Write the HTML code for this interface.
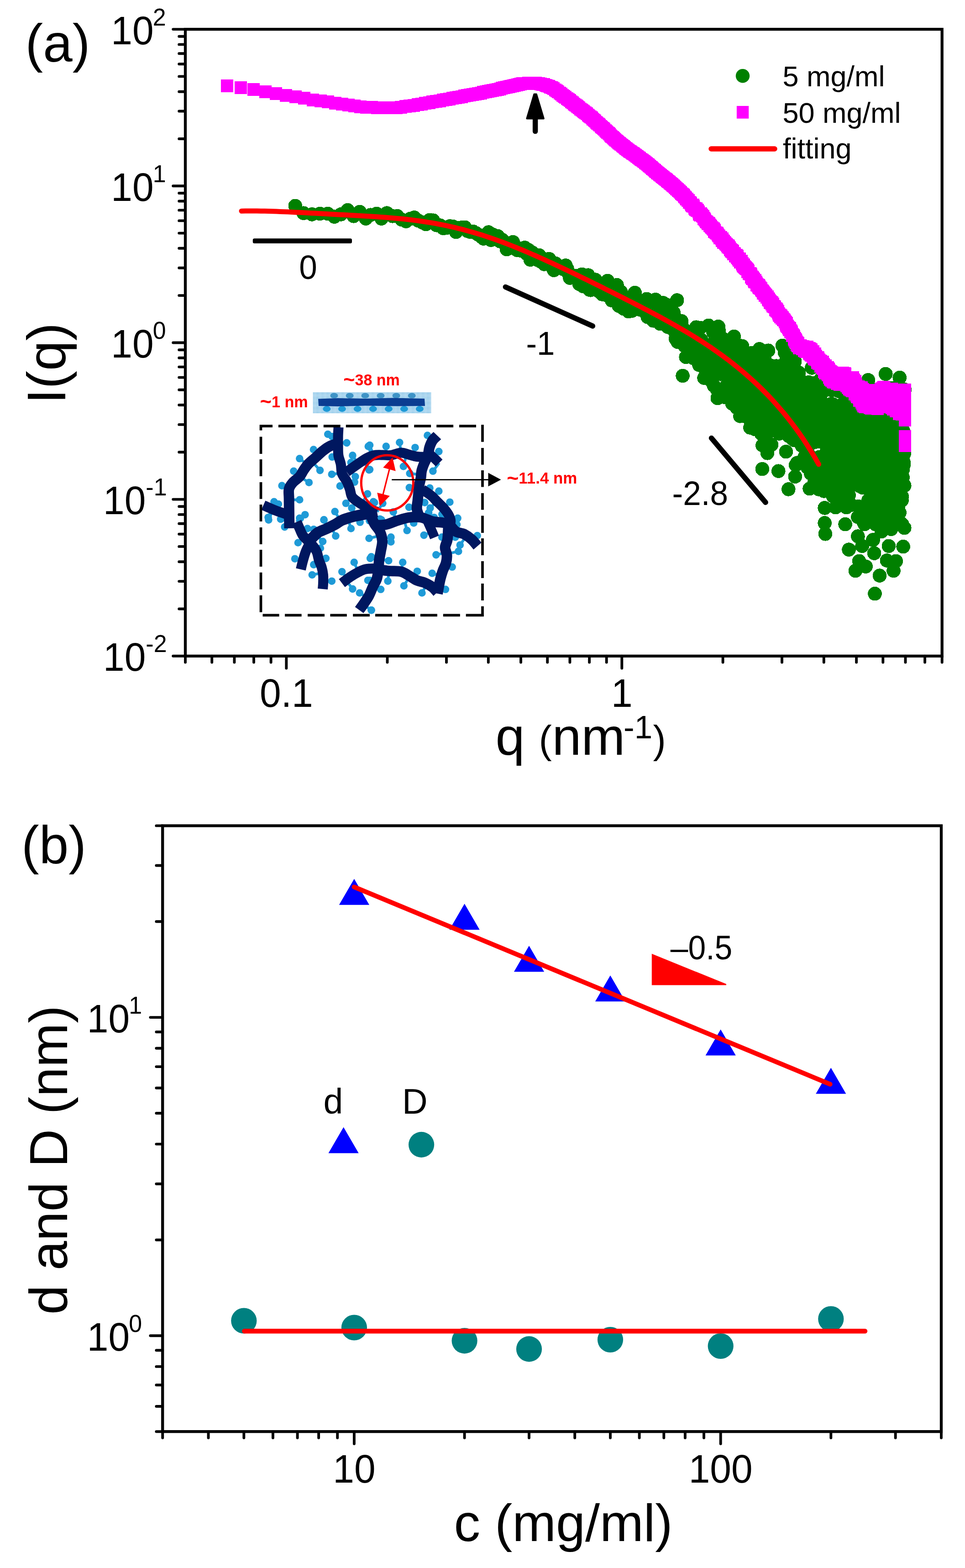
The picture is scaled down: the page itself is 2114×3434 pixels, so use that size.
<!DOCTYPE html>
<html lang="en"><head><meta charset="utf-8"><title>SAXS figure</title>
<style>html,body{margin:0;padding:0;background:#fff}svg{display:block}text{font-family:"Liberation Sans",sans-serif}.b{font-weight:bold}</style></head><body>
<svg width="2114" height="3434" viewBox="0 0 2114 3434">
<rect width="2114" height="3434" fill="#fff"/>
<g id="series-a" shape-rendering="crispEdges">
<g fill="#008000"><circle cx="646.8" cy="450.8" r="15.3"/><circle cx="665" cy="466.7" r="15.3"/><circle cx="683.5" cy="469.4" r="15.3"/><circle cx="700.7" cy="468" r="15.3"/><circle cx="717.9" cy="468" r="15.3"/><circle cx="732.5" cy="474.7" r="15.3"/><circle cx="747" cy="469.4" r="15.3"/><circle cx="761.6" cy="460.1" r="15.3"/><circle cx="774.8" cy="473.3" r="15.3"/><circle cx="788" cy="464" r="15.3"/><circle cx="801.3" cy="478.6" r="15.3"/><circle cx="811.9" cy="470.7" r="15.3"/><circle cx="825.1" cy="468" r="15.3"/><circle cx="835.7" cy="478.6" r="15.3"/><circle cx="847.6" cy="466.7" r="15.3"/><circle cx="860" cy="473.3" r="15.3"/><circle cx="870.1" cy="473.1" r="15.3"/><circle cx="879.9" cy="480.9" r="15.3"/><circle cx="889.4" cy="484.6" r="15.3"/><circle cx="898.6" cy="479.1" r="15.3"/><circle cx="907.6" cy="476.5" r="15.3"/><circle cx="916.3" cy="483.3" r="15.3"/><circle cx="924.8" cy="486.9" r="15.3"/><circle cx="933" cy="491" r="15.3"/><circle cx="941.1" cy="481.8" r="15.3"/><circle cx="948.9" cy="482.7" r="15.3"/><circle cx="956.6" cy="493.3" r="15.3"/><circle cx="964.1" cy="493.6" r="15.3"/><circle cx="971.4" cy="500" r="15.3"/><circle cx="978.6" cy="499" r="15.3"/><circle cx="985.6" cy="495.4" r="15.3"/><circle cx="992.4" cy="496.1" r="15.3"/><circle cx="999.1" cy="508.1" r="15.3"/><circle cx="1005.7" cy="499.1" r="15.3"/><circle cx="1012.1" cy="498.2" r="15.3"/><circle cx="1018.4" cy="497.9" r="15.3"/><circle cx="1024.6" cy="506.1" r="15.3"/><circle cx="1030.7" cy="508.1" r="15.3"/><circle cx="1036.6" cy="507.1" r="15.3"/><circle cx="1042.4" cy="510.4" r="15.3"/><circle cx="1048.2" cy="514" r="15.3"/><circle cx="1053.8" cy="518.2" r="15.3"/><circle cx="1059.4" cy="522.5" r="15.3"/><circle cx="1064.8" cy="519" r="15.3"/><circle cx="1070.2" cy="508.6" r="15.3"/><circle cx="1075.4" cy="525.6" r="15.3"/><circle cx="1080.6" cy="514.2" r="15.3"/><circle cx="1085.7" cy="523.8" r="15.3"/><circle cx="1090.7" cy="517.2" r="15.3"/><circle cx="1095.7" cy="528.5" r="15.3"/><circle cx="1100.5" cy="525.2" r="15.3"/><circle cx="1105.3" cy="533.5" r="15.3"/><circle cx="1110" cy="546.1" r="15.3"/><circle cx="1114.7" cy="535.3" r="15.3"/><circle cx="1119.3" cy="543.2" r="15.3"/><circle cx="1123.8" cy="530.1" r="15.3"/><circle cx="1128.3" cy="539" r="15.3"/><circle cx="1132.6" cy="547.5" r="15.3"/><circle cx="1137" cy="543.9" r="15.3"/><circle cx="1141.3" cy="549" r="15.3"/><circle cx="1145.5" cy="548.8" r="15.3"/><circle cx="1149.6" cy="542.5" r="15.3"/><circle cx="1153.8" cy="555.7" r="15.3"/><circle cx="1157.8" cy="547.3" r="15.3"/><circle cx="1161.8" cy="568.7" r="15.3"/><circle cx="1165.8" cy="553" r="15.3"/><circle cx="1169.7" cy="563.7" r="15.3"/><circle cx="1173.6" cy="560.2" r="15.3"/><circle cx="1177.4" cy="569.2" r="15.3"/><circle cx="1181.1" cy="558.9" r="15.3"/><circle cx="1184.9" cy="573" r="15.3"/><circle cx="1188.6" cy="565.9" r="15.3"/><circle cx="1192.2" cy="578.5" r="15.3"/><circle cx="1195.8" cy="575.1" r="15.3"/><circle cx="1199.4" cy="572.9" r="15.3"/><circle cx="1202.9" cy="567.1" r="15.3"/><circle cx="1206.4" cy="581.2" r="15.3"/><circle cx="1209.8" cy="580.4" r="15.3"/><circle cx="1213.2" cy="591.7" r="15.3"/><circle cx="1216.6" cy="576.7" r="15.3"/><circle cx="1219.9" cy="586" r="15.3"/><circle cx="1223.2" cy="587.2" r="15.3"/><circle cx="1226.5" cy="586.8" r="15.3"/><circle cx="1229.8" cy="587.8" r="15.3"/><circle cx="1233" cy="589.1" r="15.3"/><circle cx="1236.1" cy="583.7" r="15.3"/><circle cx="1239.3" cy="581.5" r="15.3"/><circle cx="1242.4" cy="588.4" r="15.3"/><circle cx="1245.5" cy="598.8" r="15.3"/><circle cx="1248.5" cy="608.7" r="15.3"/><circle cx="1251.5" cy="605.4" r="15.3"/><circle cx="1254.5" cy="607.6" r="15.3"/><circle cx="1257.5" cy="606.5" r="15.3"/><circle cx="1260.4" cy="607.3" r="15.3"/><circle cx="1263.3" cy="603.8" r="15.3"/><circle cx="1266.2" cy="610.9" r="15.3"/><circle cx="1269.1" cy="622" r="15.3"/><circle cx="1271.9" cy="603" r="15.3"/><circle cx="1274.7" cy="600.8" r="15.3"/><circle cx="1277.5" cy="627" r="15.3"/><circle cx="1280.3" cy="612.8" r="15.3"/><circle cx="1283" cy="621.4" r="15.3"/><circle cx="1285.7" cy="621.8" r="15.3"/><circle cx="1288.4" cy="602.7" r="15.3"/><circle cx="1291.1" cy="634.3" r="15.3"/><circle cx="1293.7" cy="635.3" r="15.3"/><circle cx="1296.4" cy="620" r="15.3"/><circle cx="1299" cy="627.4" r="15.3"/><circle cx="1301.5" cy="622.1" r="15.3"/><circle cx="1304.1" cy="612.6" r="15.3"/><circle cx="1306.6" cy="622.1" r="15.3"/><circle cx="1309.2" cy="628.5" r="15.3"/><circle cx="1311.7" cy="637.8" r="15.3"/><circle cx="1314.2" cy="634.7" r="15.3"/><circle cx="1316.6" cy="628.9" r="15.3"/><circle cx="1319.1" cy="644.4" r="15.3"/><circle cx="1321.5" cy="622.2" r="15.3"/><circle cx="1323.9" cy="640.7" r="15.3"/><circle cx="1326.3" cy="645.5" r="15.3"/><circle cx="1328.7" cy="630.9" r="15.3"/><circle cx="1331" cy="615" r="15.3"/><circle cx="1333.3" cy="626.2" r="15.3"/><circle cx="1335.7" cy="640.4" r="15.3"/><circle cx="1338" cy="644.9" r="15.3"/><circle cx="1340.2" cy="657.9" r="15.3"/><circle cx="1342.5" cy="629.5" r="15.3"/><circle cx="1344.8" cy="642.4" r="15.3"/><circle cx="1347" cy="651.2" r="15.3"/><circle cx="1349.2" cy="642.8" r="15.3"/><circle cx="1351.4" cy="624.2" r="15.3"/><circle cx="1353.6" cy="656.6" r="15.3"/><circle cx="1355.8" cy="670" r="15.3"/><circle cx="1358" cy="661.4" r="15.3"/><circle cx="1360.1" cy="639.3" r="15.3"/><circle cx="1362.3" cy="646.5" r="15.3"/><circle cx="1364.4" cy="655.4" r="15.3"/><circle cx="1366.5" cy="676.1" r="15.3"/><circle cx="1368.6" cy="662.5" r="15.3"/><circle cx="1370.6" cy="657.4" r="15.3"/><circle cx="1372.7" cy="676.5" r="15.3"/><circle cx="1374.8" cy="657.2" r="15.3"/><circle cx="1376.8" cy="682.1" r="15.3"/><circle cx="1378.8" cy="651.7" r="15.3"/><circle cx="1380.8" cy="655.2" r="15.3"/><circle cx="1382.8" cy="671" r="15.3"/><circle cx="1384.8" cy="680.6" r="15.3"/><circle cx="1386.8" cy="671.4" r="15.3"/><circle cx="1388.8" cy="667.5" r="15.3"/><circle cx="1390.7" cy="641.1" r="15.3"/><circle cx="1392.7" cy="655.8" r="15.3"/><circle cx="1394.6" cy="657.7" r="15.3"/><circle cx="1396.5" cy="659.3" r="15.3"/><circle cx="1398.4" cy="674.3" r="15.3"/><circle cx="1400.3" cy="663" r="15.3"/><circle cx="1402.2" cy="678.1" r="15.3"/><circle cx="1404" cy="669.6" r="15.3"/><circle cx="1405.9" cy="664.8" r="15.3"/><circle cx="1407.8" cy="671.2" r="15.3"/><circle cx="1409.6" cy="675.8" r="15.3"/><circle cx="1411.4" cy="682" r="15.3"/><circle cx="1413.2" cy="665.2" r="15.3"/><circle cx="1415" cy="669" r="15.3"/><circle cx="1416.8" cy="654.8" r="15.3"/><circle cx="1418.6" cy="694.1" r="15.3"/><circle cx="1420.4" cy="692.8" r="15.3"/><circle cx="1422.2" cy="672.2" r="15.3"/><circle cx="1423.9" cy="669" r="15.3"/><circle cx="1425.7" cy="659.8" r="15.3"/><circle cx="1427.4" cy="679" r="15.3"/><circle cx="1429.1" cy="680.2" r="15.3"/><circle cx="1430.9" cy="702.3" r="15.3"/><circle cx="1432.6" cy="682.2" r="15.3"/><circle cx="1434.3" cy="669.4" r="15.3"/><circle cx="1436" cy="656.3" r="15.3"/><circle cx="1437.7" cy="699.9" r="15.3"/><circle cx="1439.3" cy="684.4" r="15.3"/><circle cx="1441" cy="661.2" r="15.3"/><circle cx="1442.7" cy="685.8" r="15.3"/><circle cx="1444.3" cy="662.6" r="15.3"/><circle cx="1445.9" cy="709.1" r="15.3"/><circle cx="1447.6" cy="700.5" r="15.3"/><circle cx="1449.2" cy="693.9" r="15.3"/><circle cx="1450.8" cy="684.7" r="15.3"/><circle cx="1452.4" cy="663.4" r="15.3"/><circle cx="1454" cy="687.1" r="15.3"/><circle cx="1455.6" cy="668.7" r="15.3"/><circle cx="1457.2" cy="698.6" r="15.3"/><circle cx="1458.8" cy="666.8" r="15.3"/><circle cx="1460.3" cy="679.9" r="15.3"/><circle cx="1461.9" cy="709.7" r="15.3"/><circle cx="1463.4" cy="716.3" r="15.3"/><circle cx="1465" cy="678.8" r="15.3"/><circle cx="1466.5" cy="674.8" r="15.3"/><circle cx="1468.1" cy="708.5" r="15.3"/><circle cx="1469.6" cy="709" r="15.3"/><circle cx="1471.1" cy="684.7" r="15.3"/><circle cx="1472.6" cy="689.6" r="15.3"/><circle cx="1474.1" cy="690.4" r="15.3"/><circle cx="1475.6" cy="684.4" r="15.3"/><circle cx="1477.1" cy="692.3" r="15.3"/><circle cx="1478.6" cy="726.8" r="15.3"/><circle cx="1480" cy="741.5" r="15.3"/><circle cx="1481.5" cy="737.6" r="15.3"/><circle cx="1483" cy="701.7" r="15.3"/><circle cx="1484.4" cy="748.8" r="15.3"/><circle cx="1485.9" cy="744.5" r="15.3"/><circle cx="1487.3" cy="736" r="15.3"/><circle cx="1488.7" cy="712.1" r="15.3"/><circle cx="1490.2" cy="707.1" r="15.3"/><circle cx="1491.6" cy="735.3" r="15.3"/><circle cx="1493" cy="703.3" r="15.3"/><circle cx="1494.4" cy="750.9" r="15.3"/><circle cx="1495.8" cy="718.2" r="15.3"/><circle cx="1497.2" cy="732.1" r="15.3"/><circle cx="1498.6" cy="728" r="15.3"/><circle cx="1500" cy="757.6" r="15.3"/><circle cx="1501.4" cy="743.8" r="15.3"/><circle cx="1502.7" cy="781.9" r="15.3"/><circle cx="1504.1" cy="757.5" r="15.3"/><circle cx="1505.5" cy="727.8" r="15.3"/><circle cx="1506.8" cy="775.6" r="15.3"/><circle cx="1508.2" cy="732.9" r="15.3"/><circle cx="1509.5" cy="767.7" r="15.3"/><circle cx="1510.9" cy="749.7" r="15.3"/><circle cx="1512.2" cy="732.5" r="15.3"/><circle cx="1513.5" cy="763.1" r="15.3"/><circle cx="1514.8" cy="740" r="15.3"/><circle cx="1516.1" cy="749.1" r="15.3"/><circle cx="1517.5" cy="746.5" r="15.3"/><circle cx="1518.8" cy="784.3" r="15.3"/><circle cx="1520.1" cy="771.7" r="15.3"/><circle cx="1521.4" cy="757.7" r="15.3"/><circle cx="1522.6" cy="779.5" r="15.3"/><circle cx="1523.9" cy="725.7" r="15.3"/><circle cx="1525.2" cy="716.7" r="15.3"/><circle cx="1526.5" cy="759.4" r="15.3"/><circle cx="1527.8" cy="770.8" r="15.3"/><circle cx="1529" cy="772.1" r="15.3"/><circle cx="1530.3" cy="775" r="15.3"/><circle cx="1531.5" cy="799.2" r="15.3"/><circle cx="1532.8" cy="761.3" r="15.3"/><circle cx="1534" cy="718.1" r="15.3"/><circle cx="1535.3" cy="786.3" r="15.3"/><circle cx="1536.5" cy="744.4" r="15.3"/><circle cx="1537.7" cy="787.3" r="15.3"/><circle cx="1538.9" cy="780.2" r="15.3"/><circle cx="1540.2" cy="758.9" r="15.3"/><circle cx="1541.4" cy="800.9" r="15.3"/><circle cx="1542.6" cy="827.7" r="15.3"/><circle cx="1543.8" cy="807.3" r="15.3"/><circle cx="1545" cy="768.7" r="15.3"/><circle cx="1546.2" cy="798.8" r="15.3"/><circle cx="1547.4" cy="760.2" r="15.3"/><circle cx="1548.6" cy="797.6" r="15.3"/><circle cx="1549.8" cy="794.7" r="15.3"/><circle cx="1550.9" cy="803.9" r="15.3"/><circle cx="1552.1" cy="712.8" r="15.3"/><circle cx="1553.3" cy="776" r="15.3"/><circle cx="1554.5" cy="759.7" r="15.3"/><circle cx="1555.6" cy="821.5" r="15.3"/><circle cx="1556.8" cy="777.2" r="15.3"/><circle cx="1557.9" cy="833.4" r="15.3"/><circle cx="1559.1" cy="776.6" r="15.3"/><circle cx="1560.2" cy="791.6" r="15.3"/><circle cx="1561.4" cy="797.6" r="15.3"/><circle cx="1562.5" cy="727.6" r="15.3"/><circle cx="1563.6" cy="844.4" r="15.3"/><circle cx="1564.8" cy="767.4" r="15.3"/><circle cx="1565.9" cy="813.9" r="15.3"/><circle cx="1567" cy="744.3" r="15.3"/><circle cx="1568.1" cy="820.4" r="15.3"/><circle cx="1569.2" cy="759.6" r="15.3"/><circle cx="1570.4" cy="852.8" r="15.3"/><circle cx="1571.5" cy="755.7" r="15.3"/><circle cx="1572.6" cy="765.5" r="15.3"/><circle cx="1573.7" cy="715.2" r="15.3"/><circle cx="1574.8" cy="724.3" r="15.3"/><circle cx="1575.9" cy="786.1" r="15.3"/><circle cx="1576.9" cy="780.5" r="15.3"/><circle cx="1578" cy="819.3" r="15.3"/><circle cx="1579.1" cy="783.2" r="15.3"/><circle cx="1580.2" cy="749.6" r="15.3"/><circle cx="1581.2" cy="804.9" r="15.3"/><circle cx="1582.3" cy="815.4" r="15.3"/><circle cx="1583.4" cy="868.2" r="15.3"/><circle cx="1584.4" cy="787.3" r="15.3"/><circle cx="1585.5" cy="794.4" r="15.3"/><circle cx="1586.6" cy="743.2" r="15.3"/><circle cx="1587.6" cy="808.9" r="15.3"/><circle cx="1588.7" cy="870" r="15.3"/><circle cx="1589.7" cy="807.8" r="15.3"/><circle cx="1590.7" cy="801.1" r="15.3"/><circle cx="1591.8" cy="795.9" r="15.3"/><circle cx="1592.8" cy="842.5" r="15.3"/><circle cx="1593.8" cy="761.7" r="15.3"/><circle cx="1594.9" cy="781" r="15.3"/><circle cx="1595.9" cy="855.1" r="15.3"/><circle cx="1596.9" cy="763.5" r="15.3"/><circle cx="1597.9" cy="836.5" r="15.3"/><circle cx="1599" cy="788.2" r="15.3"/><circle cx="1600" cy="860.4" r="15.3"/><circle cx="1601" cy="844.7" r="15.3"/><circle cx="1602" cy="812.7" r="15.3"/><circle cx="1603" cy="766.9" r="15.3"/><circle cx="1604" cy="802.9" r="15.3"/><circle cx="1605" cy="800" r="15.3"/><circle cx="1606" cy="762.7" r="15.3"/><circle cx="1607" cy="833.5" r="15.3"/><circle cx="1607.9" cy="737" r="15.3"/><circle cx="1608.9" cy="800.4" r="15.3"/><circle cx="1609.9" cy="822.8" r="15.3"/><circle cx="1610.9" cy="882.3" r="15.3"/><circle cx="1611.9" cy="802.4" r="15.3"/><circle cx="1612.8" cy="849.6" r="15.3"/><circle cx="1613.8" cy="892.9" r="15.3"/><circle cx="1614.8" cy="838.3" r="15.3"/><circle cx="1615.7" cy="841.3" r="15.3"/><circle cx="1616.7" cy="758.2" r="15.3"/><circle cx="1617.6" cy="756" r="15.3"/><circle cx="1618.6" cy="806" r="15.3"/><circle cx="1619.5" cy="856.7" r="15.3"/><circle cx="1620.5" cy="777.4" r="15.3"/><circle cx="1621.4" cy="911.3" r="15.3"/><circle cx="1622.4" cy="826.9" r="15.3"/><circle cx="1623.3" cy="768.8" r="15.3"/><circle cx="1624.3" cy="857.7" r="15.3"/><circle cx="1625.2" cy="762.3" r="15.3"/><circle cx="1626.1" cy="758" r="15.3"/><circle cx="1627.1" cy="777.1" r="15.3"/><circle cx="1628" cy="783.4" r="15.3"/><circle cx="1628.9" cy="889.5" r="15.3"/><circle cx="1629.8" cy="831" r="15.3"/><circle cx="1630.7" cy="850.4" r="15.3"/><circle cx="1631.7" cy="847.6" r="15.3"/><circle cx="1632.6" cy="883.2" r="15.3"/><circle cx="1633.5" cy="835.9" r="15.3"/><circle cx="1634.4" cy="831.1" r="15.3"/><circle cx="1635.3" cy="912.8" r="15.3"/><circle cx="1636.2" cy="850.8" r="15.3"/><circle cx="1637.1" cy="838.6" r="15.3"/><circle cx="1638" cy="822.9" r="15.3"/><circle cx="1638.9" cy="850.8" r="15.3"/><circle cx="1639.8" cy="916.1" r="15.3"/><circle cx="1640.7" cy="868" r="15.3"/><circle cx="1641.6" cy="893.8" r="15.3"/><circle cx="1642.4" cy="870.3" r="15.3"/><circle cx="1643.3" cy="936.4" r="15.3"/><circle cx="1644.2" cy="804.7" r="15.3"/><circle cx="1645.1" cy="925.9" r="15.3"/><circle cx="1646" cy="870.9" r="15.3"/><circle cx="1646.8" cy="925" r="15.3"/><circle cx="1647.7" cy="772.9" r="15.3"/><circle cx="1648.6" cy="866.6" r="15.3"/><circle cx="1649.4" cy="897.3" r="15.3"/><circle cx="1650.3" cy="831.7" r="15.3"/><circle cx="1651.2" cy="774.4" r="15.3"/><circle cx="1652" cy="884.8" r="15.3"/><circle cx="1652.9" cy="781" r="15.3"/><circle cx="1653.7" cy="940" r="15.3"/><circle cx="1654.6" cy="825.8" r="15.3"/><circle cx="1655.4" cy="922.7" r="15.3"/><circle cx="1656.3" cy="844.2" r="15.3"/><circle cx="1657.1" cy="817.7" r="15.3"/><circle cx="1658" cy="806.8" r="15.3"/><circle cx="1658.8" cy="931.5" r="15.3"/><circle cx="1659.7" cy="875.8" r="15.3"/><circle cx="1660.5" cy="849.2" r="15.3"/><circle cx="1661.3" cy="812.8" r="15.3"/><circle cx="1662.2" cy="795.8" r="15.3"/><circle cx="1663" cy="942" r="15.3"/><circle cx="1663.8" cy="764.4" r="15.3"/><circle cx="1664.6" cy="863.7" r="15.3"/><circle cx="1665.5" cy="812.8" r="15.3"/><circle cx="1666.3" cy="888.9" r="15.3"/><circle cx="1667.1" cy="803" r="15.3"/><circle cx="1667.9" cy="950.2" r="15.3"/><circle cx="1668.7" cy="866.8" r="15.3"/><circle cx="1669.6" cy="871.4" r="15.3"/><circle cx="1670.4" cy="975.3" r="15.3"/><circle cx="1671.2" cy="877.7" r="15.3"/><circle cx="1672" cy="916.1" r="15.3"/><circle cx="1672.8" cy="833.8" r="15.3"/><circle cx="1673.6" cy="835.8" r="15.3"/><circle cx="1674.4" cy="858.7" r="15.3"/><circle cx="1675.2" cy="784.1" r="15.3"/><circle cx="1676" cy="789.5" r="15.3"/><circle cx="1676.8" cy="922" r="15.3"/><circle cx="1677.6" cy="948.9" r="15.3"/><circle cx="1678.4" cy="979.6" r="15.3"/><circle cx="1679.1" cy="922.3" r="15.3"/><circle cx="1679.9" cy="951.5" r="15.3"/><circle cx="1680.7" cy="871.8" r="15.3"/><circle cx="1681.5" cy="878.7" r="15.3"/><circle cx="1682.3" cy="938.2" r="15.3"/><circle cx="1683.1" cy="767.7" r="15.3"/><circle cx="1683.8" cy="904.9" r="15.3"/><circle cx="1684.6" cy="930.7" r="15.3"/><circle cx="1685.4" cy="821.6" r="15.3"/><circle cx="1686.2" cy="883.1" r="15.3"/><circle cx="1686.9" cy="867.3" r="15.3"/><circle cx="1687.7" cy="925.8" r="15.3"/><circle cx="1688.5" cy="833.4" r="15.3"/><circle cx="1689.2" cy="800.9" r="15.3"/><circle cx="1690" cy="973.9" r="15.3"/><circle cx="1690.8" cy="922.7" r="15.3"/><circle cx="1691.5" cy="881.5" r="15.3"/><circle cx="1692.3" cy="905.2" r="15.3"/><circle cx="1693" cy="845.6" r="15.3"/><circle cx="1693.8" cy="915.9" r="15.3"/><circle cx="1694.5" cy="846.1" r="15.3"/><circle cx="1695.3" cy="822.7" r="15.3"/><circle cx="1696" cy="832.8" r="15.3"/><circle cx="1696.8" cy="816.7" r="15.3"/><circle cx="1697.5" cy="892.5" r="15.3"/><circle cx="1698.3" cy="837.6" r="15.3"/><circle cx="1699" cy="906.5" r="15.3"/><circle cx="1699.7" cy="891" r="15.3"/><circle cx="1700.5" cy="801.7" r="15.3"/><circle cx="1701.2" cy="873" r="15.3"/><circle cx="1702" cy="848.6" r="15.3"/><circle cx="1702.7" cy="826.5" r="15.3"/><circle cx="1703.4" cy="933.5" r="15.3"/><circle cx="1704.1" cy="846.4" r="15.3"/><circle cx="1704.9" cy="808.5" r="15.3"/><circle cx="1705.6" cy="818.8" r="15.3"/><circle cx="1706.3" cy="870.5" r="15.3"/><circle cx="1707" cy="949.5" r="15.3"/><circle cx="1707.8" cy="918.1" r="15.3"/><circle cx="1708.5" cy="820.2" r="15.3"/><circle cx="1709.2" cy="897.3" r="15.3"/><circle cx="1709.9" cy="939.6" r="15.3"/><circle cx="1710.6" cy="804" r="15.3"/><circle cx="1711.4" cy="859.8" r="15.3"/><circle cx="1712.1" cy="801.1" r="15.3"/><circle cx="1712.8" cy="802.8" r="15.3"/><circle cx="1713.5" cy="947.5" r="15.3"/><circle cx="1714.2" cy="828.7" r="15.3"/><circle cx="1714.9" cy="898.2" r="15.3"/><circle cx="1715.6" cy="848.3" r="15.3"/><circle cx="1716.3" cy="874.3" r="15.3"/><circle cx="1717" cy="860.3" r="15.3"/><circle cx="1717.7" cy="846.5" r="15.3"/><circle cx="1718.4" cy="808.5" r="15.3"/><circle cx="1719.1" cy="772.5" r="15.3"/><circle cx="1719.8" cy="836.5" r="15.3"/><circle cx="1720.5" cy="793.8" r="15.3"/><circle cx="1721.2" cy="852.7" r="15.3"/><circle cx="1721.9" cy="989.2" r="15.3"/><circle cx="1722.5" cy="934.5" r="15.3"/><circle cx="1723.2" cy="863.1" r="15.3"/><circle cx="1723.9" cy="863.6" r="15.3"/><circle cx="1724.6" cy="869.3" r="15.3"/><circle cx="1725.3" cy="909.1" r="15.3"/><circle cx="1726" cy="783" r="15.3"/><circle cx="1726.6" cy="866.1" r="15.3"/><circle cx="1727.3" cy="954.5" r="15.3"/><circle cx="1728" cy="893.5" r="15.3"/><circle cx="1728.7" cy="906.5" r="15.3"/><circle cx="1729.4" cy="909.6" r="15.3"/><circle cx="1730" cy="831.8" r="15.3"/><circle cx="1730.7" cy="908.1" r="15.3"/><circle cx="1731.4" cy="806.4" r="15.3"/><circle cx="1732" cy="801.7" r="15.3"/><circle cx="1732.7" cy="919.4" r="15.3"/><circle cx="1733.4" cy="883.1" r="15.3"/><circle cx="1734" cy="955.6" r="15.3"/><circle cx="1734.7" cy="900.5" r="15.3"/><circle cx="1735.4" cy="943.5" r="15.3"/><circle cx="1736" cy="961" r="15.3"/><circle cx="1736.7" cy="862.8" r="15.3"/><circle cx="1737.3" cy="866.5" r="15.3"/><circle cx="1738" cy="951.9" r="15.3"/><circle cx="1738.6" cy="836.9" r="15.3"/><circle cx="1739.3" cy="802.8" r="15.3"/><circle cx="1739.9" cy="964" r="15.3"/><circle cx="1740.6" cy="942.8" r="15.3"/><circle cx="1741.2" cy="791.4" r="15.3"/><circle cx="1741.9" cy="854.4" r="15.3"/><circle cx="1742.5" cy="844.4" r="15.3"/><circle cx="1743.2" cy="845.9" r="15.3"/><circle cx="1743.8" cy="959.5" r="15.3"/><circle cx="1744.5" cy="934.9" r="15.3"/><circle cx="1745.1" cy="827.4" r="15.3"/><circle cx="1745.8" cy="887.2" r="15.3"/><circle cx="1746.4" cy="1013.7" r="15.3"/><circle cx="1747" cy="860.8" r="15.3"/><circle cx="1747.7" cy="939.8" r="15.3"/><circle cx="1748.3" cy="915.5" r="15.3"/><circle cx="1748.9" cy="925.6" r="15.3"/><circle cx="1749.6" cy="926.8" r="15.3"/><circle cx="1750.2" cy="816" r="15.3"/><circle cx="1750.8" cy="841.5" r="15.3"/><circle cx="1751.5" cy="957.8" r="15.3"/><circle cx="1752.1" cy="914.2" r="15.3"/><circle cx="1752.7" cy="831.9" r="15.3"/><circle cx="1753.3" cy="947.9" r="15.3"/><circle cx="1754" cy="919.8" r="15.3"/><circle cx="1754.6" cy="860.5" r="15.3"/><circle cx="1755.2" cy="915.5" r="15.3"/><circle cx="1755.8" cy="866.3" r="15.3"/><circle cx="1756.4" cy="976" r="15.3"/><circle cx="1757.1" cy="845.2" r="15.3"/><circle cx="1757.7" cy="1014.5" r="15.3"/><circle cx="1758.3" cy="852.9" r="15.3"/><circle cx="1758.9" cy="858.5" r="15.3"/><circle cx="1759.5" cy="962.2" r="15.3"/><circle cx="1760.1" cy="912.3" r="15.3"/><circle cx="1760.7" cy="882" r="15.3"/><circle cx="1761.4" cy="921.5" r="15.3"/><circle cx="1762" cy="883.6" r="15.3"/><circle cx="1762.6" cy="871.3" r="15.3"/><circle cx="1763.2" cy="999.6" r="15.3"/><circle cx="1763.8" cy="945.6" r="15.3"/><circle cx="1764.4" cy="891.1" r="15.3"/><circle cx="1765" cy="922.3" r="15.3"/><circle cx="1765.6" cy="978" r="15.3"/><circle cx="1766.2" cy="990.3" r="15.3"/><circle cx="1766.8" cy="926.7" r="15.3"/><circle cx="1767.4" cy="966.4" r="15.3"/><circle cx="1768" cy="911.2" r="15.3"/><circle cx="1768.6" cy="1023.3" r="15.3"/><circle cx="1769.2" cy="892.9" r="15.3"/><circle cx="1769.8" cy="879.8" r="15.3"/><circle cx="1770.4" cy="1015.4" r="15.3"/><circle cx="1771" cy="994.5" r="15.3"/><circle cx="1771.5" cy="928.1" r="15.3"/><circle cx="1772.1" cy="837.3" r="15.3"/><circle cx="1772.7" cy="1024.7" r="15.3"/><circle cx="1773.3" cy="874.1" r="15.3"/><circle cx="1773.9" cy="873.2" r="15.3"/><circle cx="1774.5" cy="970.4" r="15.3"/><circle cx="1775.1" cy="964.1" r="15.3"/><circle cx="1775.7" cy="895.1" r="15.3"/><circle cx="1776.2" cy="1031.1" r="15.3"/><circle cx="1776.8" cy="915" r="15.3"/><circle cx="1777.4" cy="970.9" r="15.3"/><circle cx="1778" cy="936.6" r="15.3"/><circle cx="1778.5" cy="805.4" r="15.3"/><circle cx="1779.1" cy="913.7" r="15.3"/><circle cx="1779.7" cy="946.2" r="15.3"/><circle cx="1780.3" cy="893.1" r="15.3"/><circle cx="1780.8" cy="874.9" r="15.3"/><circle cx="1781.4" cy="897.6" r="15.3"/><circle cx="1782" cy="1009.4" r="15.3"/><circle cx="1782.6" cy="852.3" r="15.3"/><circle cx="1783.1" cy="849.9" r="15.3"/><circle cx="1783.7" cy="1058.3" r="15.3"/><circle cx="1784.3" cy="865.5" r="15.3"/><circle cx="1784.8" cy="839.2" r="15.3"/><circle cx="1785.4" cy="968" r="15.3"/><circle cx="1786" cy="1031.3" r="15.3"/><circle cx="1786.5" cy="902.7" r="15.3"/><circle cx="1787.1" cy="902.9" r="15.3"/><circle cx="1787.7" cy="844.4" r="15.3"/><circle cx="1788.2" cy="904.7" r="15.3"/><circle cx="1788.8" cy="1028.4" r="15.3"/><circle cx="1789.3" cy="930.4" r="15.3"/><circle cx="1789.9" cy="912.4" r="15.3"/><circle cx="1790.4" cy="956" r="15.3"/><circle cx="1791" cy="907.4" r="15.3"/><circle cx="1791.6" cy="904.9" r="15.3"/><circle cx="1792.1" cy="871.2" r="15.3"/><circle cx="1792.7" cy="953.1" r="15.3"/><circle cx="1793.2" cy="837" r="15.3"/><circle cx="1793.8" cy="889.3" r="15.3"/><circle cx="1794.3" cy="966.8" r="15.3"/><circle cx="1794.9" cy="901.1" r="15.3"/><circle cx="1795.4" cy="1000.8" r="15.3"/><circle cx="1796" cy="901.9" r="15.3"/><circle cx="1796.5" cy="906.8" r="15.3"/><circle cx="1797" cy="873.7" r="15.3"/><circle cx="1797.6" cy="845.3" r="15.3"/><circle cx="1798.1" cy="914.2" r="15.3"/><circle cx="1798.7" cy="829.4" r="15.3"/><circle cx="1799.2" cy="922.6" r="15.3"/><circle cx="1799.8" cy="1041.4" r="15.3"/><circle cx="1800.3" cy="942.5" r="15.3"/><circle cx="1800.8" cy="952.8" r="15.3"/><circle cx="1801.4" cy="960.6" r="15.3"/><circle cx="1801.9" cy="1039.8" r="15.3"/><circle cx="1802.4" cy="926.4" r="15.3"/><circle cx="1803" cy="1051.8" r="15.3"/><circle cx="1803.5" cy="1035.3" r="15.3"/><circle cx="1804.1" cy="951.6" r="15.3"/><circle cx="1804.6" cy="924" r="15.3"/><circle cx="1805.1" cy="1075.4" r="15.3"/><circle cx="1805.6" cy="910.6" r="15.3"/><circle cx="1806.2" cy="918" r="15.3"/><circle cx="1806.7" cy="1036.9" r="15.3"/><circle cx="1807.2" cy="957.4" r="15.3"/><circle cx="1807.8" cy="972.8" r="15.3"/><circle cx="1808.3" cy="823.8" r="15.3"/><circle cx="1808.8" cy="1061.5" r="15.3"/><circle cx="1809.3" cy="1018.6" r="15.3"/><circle cx="1809.9" cy="905.7" r="15.3"/><circle cx="1810.4" cy="1035.6" r="15.3"/><circle cx="1810.9" cy="965" r="15.3"/><circle cx="1811.4" cy="987.3" r="15.3"/><circle cx="1811.9" cy="853.4" r="15.3"/><circle cx="1812.5" cy="960.7" r="15.3"/><circle cx="1813" cy="948.6" r="15.3"/><circle cx="1813.5" cy="961.2" r="15.3"/><circle cx="1814" cy="980.2" r="15.3"/><circle cx="1814.5" cy="988" r="15.3"/><circle cx="1815" cy="1061.3" r="15.3"/><circle cx="1815.6" cy="950.4" r="15.3"/><circle cx="1816.1" cy="923.7" r="15.3"/><circle cx="1816.6" cy="903.6" r="15.3"/><circle cx="1817.1" cy="839.7" r="15.3"/><circle cx="1817.6" cy="1073" r="15.3"/><circle cx="1818.1" cy="990.9" r="15.3"/><circle cx="1818.6" cy="964.9" r="15.3"/><circle cx="1819.1" cy="892.7" r="15.3"/><circle cx="1819.6" cy="955.3" r="15.3"/><circle cx="1820.2" cy="1052.7" r="15.3"/><circle cx="1820.7" cy="835.6" r="15.3"/><circle cx="1821.2" cy="1041" r="15.3"/><circle cx="1821.7" cy="884.4" r="15.3"/><circle cx="1822.2" cy="919.5" r="15.3"/><circle cx="1822.7" cy="854.6" r="15.3"/><circle cx="1823.2" cy="952.3" r="15.3"/><circle cx="1823.7" cy="836.5" r="15.3"/><circle cx="1824.2" cy="1040.5" r="15.3"/><circle cx="1824.7" cy="885.4" r="15.3"/><circle cx="1825.2" cy="926.2" r="15.3"/><circle cx="1825.7" cy="841.7" r="15.3"/><circle cx="1826.2" cy="1055.5" r="15.3"/><circle cx="1826.7" cy="932.7" r="15.3"/><circle cx="1827.2" cy="1034.2" r="15.3"/><circle cx="1827.7" cy="1019.4" r="15.3"/><circle cx="1828.2" cy="981.9" r="15.3"/><circle cx="1828.7" cy="937.6" r="15.3"/><circle cx="1829.1" cy="966.2" r="15.3"/><circle cx="1829.6" cy="1009.6" r="15.3"/><circle cx="1830.1" cy="911.1" r="15.3"/><circle cx="1830.6" cy="1061" r="15.3"/><circle cx="1831.1" cy="957.8" r="15.3"/><circle cx="1831.6" cy="920.2" r="15.3"/><circle cx="1832.1" cy="975.2" r="15.3"/><circle cx="1832.6" cy="963.5" r="15.3"/><circle cx="1833.1" cy="958.2" r="15.3"/><circle cx="1833.5" cy="1038.6" r="15.3"/><circle cx="1834" cy="905.2" r="15.3"/><circle cx="1834.5" cy="948" r="15.3"/><circle cx="1835" cy="1005.4" r="15.3"/><circle cx="1835.5" cy="952.7" r="15.3"/><circle cx="1836" cy="1060.6" r="15.3"/><circle cx="1836.4" cy="1088.9" r="15.3"/><circle cx="1836.9" cy="995.8" r="15.3"/><circle cx="1837.4" cy="1061.8" r="15.3"/><circle cx="1837.9" cy="856.8" r="15.3"/><circle cx="1838.4" cy="902.2" r="15.3"/><circle cx="1838.8" cy="1103.9" r="15.3"/><circle cx="1839.3" cy="1035.3" r="15.3"/><circle cx="1839.8" cy="1045.4" r="15.3"/><circle cx="1840.3" cy="850.5" r="15.3"/><circle cx="1840.8" cy="911.5" r="15.3"/><circle cx="1841.2" cy="978.1" r="15.3"/><circle cx="1841.7" cy="1007.2" r="15.3"/><circle cx="1842.2" cy="1006.6" r="15.3"/><circle cx="1842.6" cy="1007.1" r="15.3"/><circle cx="1843.1" cy="920.2" r="15.3"/><circle cx="1843.6" cy="1078.5" r="15.3"/><circle cx="1844.1" cy="936.7" r="15.3"/><circle cx="1844.5" cy="1002.4" r="15.3"/><circle cx="1845" cy="1094.6" r="15.3"/><circle cx="1845.5" cy="973" r="15.3"/><circle cx="1845.9" cy="843.6" r="15.3"/><circle cx="1846.4" cy="954" r="15.3"/><circle cx="1846.9" cy="1020" r="15.3"/><circle cx="1847.3" cy="908.6" r="15.3"/><circle cx="1847.8" cy="968.2" r="15.3"/><circle cx="1848.3" cy="882.4" r="15.3"/><circle cx="1848.7" cy="1026" r="15.3"/><circle cx="1849.2" cy="1046.6" r="15.3"/><circle cx="1849.7" cy="984.7" r="15.3"/><circle cx="1850.1" cy="1083.8" r="15.3"/><circle cx="1850.6" cy="881.7" r="15.3"/><circle cx="1851" cy="926.2" r="15.3"/><circle cx="1851.5" cy="914.2" r="15.3"/><circle cx="1852" cy="882.6" r="15.3"/><circle cx="1852.4" cy="960.1" r="15.3"/><circle cx="1852.9" cy="833.8" r="15.3"/><circle cx="1853.3" cy="1045.5" r="15.3"/><circle cx="1853.8" cy="999.3" r="15.3"/><circle cx="1854.2" cy="954" r="15.3"/><circle cx="1854.7" cy="947.2" r="15.3"/><circle cx="1855.1" cy="984.4" r="15.3"/><circle cx="1855.6" cy="895" r="15.3"/><circle cx="1856.1" cy="919" r="15.3"/><circle cx="1856.5" cy="844.7" r="15.3"/><circle cx="1857" cy="950.5" r="15.3"/><circle cx="1857.4" cy="878.1" r="15.3"/><circle cx="1857.9" cy="877" r="15.3"/><circle cx="1858.3" cy="971.3" r="15.3"/><circle cx="1858.8" cy="956.7" r="15.3"/><circle cx="1859.2" cy="1054.6" r="15.3"/><circle cx="1859.7" cy="1084.6" r="15.3"/><circle cx="1860.1" cy="847.1" r="15.3"/><circle cx="1860.5" cy="876.6" r="15.3"/><circle cx="1861" cy="848.2" r="15.3"/><circle cx="1861.4" cy="1007.3" r="15.3"/><circle cx="1861.9" cy="909.7" r="15.3"/><circle cx="1862.3" cy="939.3" r="15.3"/><circle cx="1862.8" cy="1063" r="15.3"/><circle cx="1863.2" cy="907.5" r="15.3"/><circle cx="1863.7" cy="1027.8" r="15.3"/><circle cx="1864.1" cy="981.6" r="15.3"/><circle cx="1864.5" cy="938.4" r="15.3"/><circle cx="1865" cy="1105.9" r="15.3"/><circle cx="1865.4" cy="973.4" r="15.3"/><circle cx="1865.9" cy="950.8" r="15.3"/><circle cx="1866.3" cy="1027.5" r="15.3"/><circle cx="1866.7" cy="1042.1" r="15.3"/><circle cx="1867.2" cy="905.6" r="15.3"/><circle cx="1867.6" cy="1024.8" r="15.3"/><circle cx="1868" cy="957.1" r="15.3"/><circle cx="1868.5" cy="849.2" r="15.3"/><circle cx="1868.9" cy="1036.7" r="15.3"/><circle cx="1869.4" cy="973.5" r="15.3"/><circle cx="1869.8" cy="993.6" r="15.3"/><circle cx="1870.2" cy="968.8" r="15.3"/><circle cx="1870.7" cy="925.7" r="15.3"/><circle cx="1871.1" cy="934.7" r="15.3"/><circle cx="1871.5" cy="963.9" r="15.3"/><circle cx="1871.9" cy="1022.3" r="15.3"/><circle cx="1872.4" cy="937.2" r="15.3"/><circle cx="1872.8" cy="967.4" r="15.3"/><circle cx="1873.2" cy="849.2" r="15.3"/><circle cx="1873.7" cy="951.8" r="15.3"/><circle cx="1874.1" cy="897.2" r="15.3"/><circle cx="1874.5" cy="1060.9" r="15.3"/><circle cx="1874.9" cy="939.9" r="15.3"/><circle cx="1875.4" cy="996.7" r="15.3"/><circle cx="1875.8" cy="900.2" r="15.3"/><circle cx="1876.2" cy="974.4" r="15.3"/><circle cx="1876.7" cy="968.9" r="15.3"/><circle cx="1877.1" cy="919.1" r="15.3"/><circle cx="1877.5" cy="951.4" r="15.3"/><circle cx="1877.9" cy="1038.2" r="15.3"/><circle cx="1878.3" cy="921.5" r="15.3"/><circle cx="1878.8" cy="895.8" r="15.3"/><circle cx="1879.2" cy="955.3" r="15.3"/><circle cx="1879.6" cy="849" r="15.3"/><circle cx="1880" cy="977.5" r="15.3"/><circle cx="1880.4" cy="1109.1" r="15.3"/><circle cx="1880.9" cy="1061.3" r="15.3"/><circle cx="1881.3" cy="1058.3" r="15.3"/><circle cx="1881.7" cy="1053.6" r="15.3"/><circle cx="1882.1" cy="869.7" r="15.3"/><circle cx="1882.5" cy="996.2" r="15.3"/><circle cx="1883" cy="1064.3" r="15.3"/><circle cx="1883.4" cy="862.3" r="15.3"/><circle cx="1883.8" cy="914.4" r="15.3"/><circle cx="1884.2" cy="889.9" r="15.3"/><circle cx="1884.6" cy="1053.8" r="15.3"/><circle cx="1885" cy="1001.7" r="15.3"/><circle cx="1885.4" cy="1048" r="15.3"/><circle cx="1885.9" cy="1053.7" r="15.3"/><circle cx="1886.3" cy="1003.2" r="15.3"/><circle cx="1886.7" cy="906.5" r="15.3"/><circle cx="1887.1" cy="1051" r="15.3"/><circle cx="1887.5" cy="958.6" r="15.3"/><circle cx="1887.9" cy="1000.7" r="15.3"/><circle cx="1888.3" cy="910.6" r="15.3"/><circle cx="1888.7" cy="856.4" r="15.3"/><circle cx="1889.1" cy="1055.1" r="15.3"/><circle cx="1889.5" cy="1067.8" r="15.3"/><circle cx="1890" cy="1041.1" r="15.3"/><circle cx="1890.4" cy="850" r="15.3"/><circle cx="1890.8" cy="1046.9" r="15.3"/><circle cx="1891.2" cy="1142.4" r="15.3"/><circle cx="1891.6" cy="1031.2" r="15.3"/><circle cx="1892" cy="972.8" r="15.3"/><circle cx="1892.4" cy="867.6" r="15.3"/><circle cx="1892.8" cy="944.6" r="15.3"/><circle cx="1893.2" cy="930.8" r="15.3"/><circle cx="1893.6" cy="966.2" r="15.3"/><circle cx="1894" cy="898.5" r="15.3"/><circle cx="1894.4" cy="951.1" r="15.3"/><circle cx="1894.8" cy="877.5" r="15.3"/><circle cx="1895.2" cy="972.7" r="15.3"/><circle cx="1895.6" cy="1019.2" r="15.3"/><circle cx="1896" cy="880.9" r="15.3"/><circle cx="1896.4" cy="964.2" r="15.3"/><circle cx="1896.8" cy="869.2" r="15.3"/><circle cx="1897.2" cy="866.8" r="15.3"/><circle cx="1897.6" cy="1021.3" r="15.3"/><circle cx="1898" cy="945.7" r="15.3"/><circle cx="1898.4" cy="858" r="15.3"/><circle cx="1898.8" cy="1111.1" r="15.3"/><circle cx="1899.2" cy="957" r="15.3"/><circle cx="1899.6" cy="1046.4" r="15.3"/><circle cx="1900" cy="988.5" r="15.3"/><circle cx="1900.4" cy="1069.6" r="15.3"/><circle cx="1900.8" cy="976.8" r="15.3"/><circle cx="1901.2" cy="1013" r="15.3"/><circle cx="1901.5" cy="888" r="15.3"/><circle cx="1901.9" cy="973.7" r="15.3"/><circle cx="1902.3" cy="1095.6" r="15.3"/><circle cx="1902.7" cy="870.4" r="15.3"/><circle cx="1903.1" cy="891.8" r="15.3"/><circle cx="1903.5" cy="942.8" r="15.3"/><circle cx="1903.9" cy="1140.2" r="15.3"/><circle cx="1904.3" cy="908.8" r="15.3"/><circle cx="1904.7" cy="1053.1" r="15.3"/><circle cx="1905.1" cy="852.3" r="15.3"/><circle cx="1905.4" cy="968.7" r="15.3"/><circle cx="1905.8" cy="998.3" r="15.3"/><circle cx="1906.2" cy="1119" r="15.3"/><circle cx="1906.6" cy="1037.3" r="15.3"/><circle cx="1907" cy="1103.6" r="15.3"/><circle cx="1907.4" cy="954.9" r="15.3"/><circle cx="1907.8" cy="851.8" r="15.3"/><circle cx="1908.2" cy="1065.1" r="15.3"/><circle cx="1908.5" cy="920.3" r="15.3"/><circle cx="1908.9" cy="851.7" r="15.3"/><circle cx="1909.3" cy="1037.3" r="15.3"/><circle cx="1909.7" cy="1020.2" r="15.3"/><circle cx="1910.1" cy="937.1" r="15.3"/><circle cx="1910.4" cy="943.2" r="15.3"/><circle cx="1910.8" cy="948.9" r="15.3"/><circle cx="1911.2" cy="1005.6" r="15.3"/><circle cx="1911.6" cy="870.5" r="15.3"/><circle cx="1912" cy="882.2" r="15.3"/><circle cx="1912.4" cy="989" r="15.3"/><circle cx="1912.7" cy="987.2" r="15.3"/><circle cx="1913.1" cy="953.8" r="15.3"/><circle cx="1913.5" cy="1007.8" r="15.3"/><circle cx="1913.9" cy="1060.9" r="15.3"/><circle cx="1914.2" cy="1091.6" r="15.3"/><circle cx="1914.6" cy="1067.4" r="15.3"/><circle cx="1915" cy="1067.5" r="15.3"/><circle cx="1915.4" cy="952.1" r="15.3"/><circle cx="1915.7" cy="1023.1" r="15.3"/><circle cx="1916.1" cy="1052.7" r="15.3"/><circle cx="1916.5" cy="1065.4" r="15.3"/><circle cx="1916.9" cy="909.4" r="15.3"/><circle cx="1917.2" cy="1016.2" r="15.3"/><circle cx="1917.6" cy="1054.4" r="15.3"/><circle cx="1918" cy="907.1" r="15.3"/><circle cx="1918.4" cy="1029.1" r="15.3"/><circle cx="1918.7" cy="962.8" r="15.3"/><circle cx="1919.1" cy="1087" r="15.3"/><circle cx="1919.5" cy="1043.4" r="15.3"/><circle cx="1919.9" cy="1135.7" r="15.3"/><circle cx="1920.2" cy="1097.2" r="15.3"/><circle cx="1920.6" cy="1068.8" r="15.3"/><circle cx="1921" cy="863.7" r="15.3"/><circle cx="1921.3" cy="1074.5" r="15.3"/><circle cx="1921.7" cy="1057.8" r="15.3"/><circle cx="1922.1" cy="1017" r="15.3"/><circle cx="1922.4" cy="965.2" r="15.3"/><circle cx="1922.8" cy="1096.3" r="15.3"/><circle cx="1923.2" cy="1055.1" r="15.3"/><circle cx="1923.5" cy="971" r="15.3"/><circle cx="1923.9" cy="1026.9" r="15.3"/><circle cx="1924.3" cy="1064.2" r="15.3"/><circle cx="1924.6" cy="1097" r="15.3"/><circle cx="1925" cy="904.4" r="15.3"/><circle cx="1925.4" cy="1138.5" r="15.3"/><circle cx="1925.7" cy="1001.2" r="15.3"/><circle cx="1926.1" cy="950.4" r="15.3"/><circle cx="1926.5" cy="1025.3" r="15.3"/><circle cx="1926.8" cy="1043.8" r="15.3"/><circle cx="1927.2" cy="920.8" r="15.3"/><circle cx="1927.5" cy="963.6" r="15.3"/><circle cx="1927.9" cy="866.1" r="15.3"/><circle cx="1928.3" cy="1127.2" r="15.3"/><circle cx="1928.6" cy="874.5" r="15.3"/><circle cx="1929" cy="1000.4" r="15.3"/><circle cx="1929.3" cy="850.1" r="15.3"/><circle cx="1929.7" cy="1120" r="15.3"/><circle cx="1930.1" cy="979.2" r="15.3"/><circle cx="1930.4" cy="982.9" r="15.3"/><circle cx="1930.8" cy="1023.6" r="15.3"/><circle cx="1931.1" cy="957.4" r="15.3"/><circle cx="1931.5" cy="958.6" r="15.3"/><circle cx="1931.9" cy="1097" r="15.3"/><circle cx="1932.2" cy="1002.7" r="15.3"/><circle cx="1932.6" cy="1014.7" r="15.3"/><circle cx="1932.9" cy="887" r="15.3"/><circle cx="1933.3" cy="961.9" r="15.3"/><circle cx="1933.6" cy="1023.4" r="15.3"/><circle cx="1934" cy="1010.3" r="15.3"/><circle cx="1934.3" cy="915.5" r="15.3"/><circle cx="1934.7" cy="1108.5" r="15.3"/><circle cx="1935.1" cy="1012.9" r="15.3"/><circle cx="1935.4" cy="998" r="15.3"/><circle cx="1935.8" cy="921.2" r="15.3"/><circle cx="1936.1" cy="1033" r="15.3"/><circle cx="1936.5" cy="1145.9" r="15.3"/><circle cx="1936.8" cy="1069.6" r="15.3"/><circle cx="1937.2" cy="1133.2" r="15.3"/><circle cx="1937.5" cy="1029.5" r="15.3"/><circle cx="1937.9" cy="970.9" r="15.3"/><circle cx="1938.2" cy="1054.4" r="15.3"/><circle cx="1938.6" cy="850" r="15.3"/><circle cx="1938.9" cy="1048.5" r="15.3"/><circle cx="1939.3" cy="936.8" r="15.3"/><circle cx="1939.6" cy="989.3" r="15.3"/><circle cx="1940" cy="1080.6" r="15.3"/><circle cx="1940.3" cy="1081.1" r="15.3"/><circle cx="1940.7" cy="1061.5" r="15.3"/><circle cx="1941" cy="882.9" r="15.3"/><circle cx="1941.4" cy="958.9" r="15.3"/><circle cx="1941.7" cy="852.9" r="15.3"/><circle cx="1942" cy="975.3" r="15.3"/><circle cx="1942.4" cy="1016.9" r="15.3"/><circle cx="1942.7" cy="1038.9" r="15.3"/><circle cx="1943.1" cy="1123.5" r="15.3"/><circle cx="1943.4" cy="1084.2" r="15.3"/><circle cx="1943.8" cy="1156.6" r="15.3"/><circle cx="1944.1" cy="1148.9" r="15.3"/><circle cx="1944.5" cy="976.7" r="15.3"/><circle cx="1944.8" cy="1034.6" r="15.3"/><circle cx="1945.1" cy="1065.4" r="15.3"/><circle cx="1945.5" cy="981.8" r="15.3"/><circle cx="1945.8" cy="1157" r="15.3"/><circle cx="1946.2" cy="1046.9" r="15.3"/><circle cx="1946.5" cy="1049.7" r="15.3"/><circle cx="1946.9" cy="1041.1" r="15.3"/><circle cx="1947.2" cy="1053" r="15.3"/><circle cx="1947.5" cy="936.5" r="15.3"/><circle cx="1947.9" cy="933.3" r="15.3"/><circle cx="1948.2" cy="1109.6" r="15.3"/><circle cx="1948.6" cy="886.4" r="15.3"/><circle cx="1948.9" cy="969.2" r="15.3"/><circle cx="1949.2" cy="1036.1" r="15.3"/><circle cx="1949.6" cy="1040.8" r="15.3"/><circle cx="1949.9" cy="860" r="15.3"/><circle cx="1950.2" cy="898.9" r="15.3"/><circle cx="1950.6" cy="1041.7" r="15.3"/><circle cx="1950.9" cy="1059.2" r="15.3"/><circle cx="1951.3" cy="1081.6" r="15.3"/><circle cx="1951.6" cy="952.2" r="15.3"/><circle cx="1951.9" cy="1130.8" r="15.3"/><circle cx="1952.3" cy="1118.5" r="15.3"/><circle cx="1952.6" cy="1156.4" r="15.3"/><circle cx="1952.9" cy="922.5" r="15.3"/><circle cx="1953.3" cy="888.2" r="15.3"/><circle cx="1953.6" cy="850" r="15.3"/><circle cx="1953.9" cy="850" r="15.3"/><circle cx="1954.3" cy="1119.1" r="15.3"/><circle cx="1954.6" cy="985.3" r="15.3"/><circle cx="1954.9" cy="1099.6" r="15.3"/><circle cx="1955.3" cy="1015.8" r="15.3"/><circle cx="1955.6" cy="1027.1" r="15.3"/><circle cx="1955.9" cy="1068.3" r="15.3"/><circle cx="1956.3" cy="1021.5" r="15.3"/><circle cx="1956.6" cy="942.5" r="15.3"/><circle cx="1956.9" cy="1008.1" r="15.3"/><circle cx="1957.2" cy="1018.2" r="15.3"/><circle cx="1957.6" cy="900.2" r="15.3"/><circle cx="1957.9" cy="1050.5" r="15.3"/><circle cx="1958.2" cy="861.7" r="15.3"/><circle cx="1958.6" cy="1116.8" r="15.3"/><circle cx="1958.9" cy="1069.1" r="15.3"/><circle cx="1959.2" cy="906.6" r="15.3"/><circle cx="1959.5" cy="1111.7" r="15.3"/><circle cx="1959.9" cy="1030.6" r="15.3"/><circle cx="1960.2" cy="985.9" r="15.3"/><circle cx="1960.5" cy="1044" r="15.3"/><circle cx="1960.8" cy="996.8" r="15.3"/><circle cx="1961.2" cy="950.2" r="15.3"/><circle cx="1961.5" cy="856.2" r="15.3"/><circle cx="1961.8" cy="948" r="15.3"/><circle cx="1962.1" cy="984.4" r="15.3"/><circle cx="1962.5" cy="1114.6" r="15.3"/><circle cx="1962.8" cy="891" r="15.3"/><circle cx="1963.1" cy="962.1" r="15.3"/><circle cx="1963.4" cy="1138.6" r="15.3"/><circle cx="1963.8" cy="1013.4" r="15.3"/><circle cx="1964.1" cy="912" r="15.3"/><circle cx="1964.4" cy="956.4" r="15.3"/><circle cx="1964.7" cy="946.8" r="15.3"/><circle cx="1965.1" cy="897" r="15.3"/><circle cx="1965.4" cy="879.6" r="15.3"/><circle cx="1965.7" cy="1101.3" r="15.3"/><circle cx="1966" cy="991.2" r="15.3"/><circle cx="1966.3" cy="1137.9" r="15.3"/><circle cx="1966.7" cy="1065.8" r="15.3"/><circle cx="1967" cy="1028.2" r="15.3"/><circle cx="1967.3" cy="1116.7" r="15.3"/><circle cx="1967.6" cy="1111.1" r="15.3"/><circle cx="1967.9" cy="853.6" r="15.3"/><circle cx="1968.3" cy="1077.5" r="15.3"/><circle cx="1968.6" cy="1057.1" r="15.3"/><circle cx="1968.9" cy="873.3" r="15.3"/><circle cx="1969.2" cy="938.6" r="15.3"/><circle cx="1969.5" cy="1140.6" r="15.3"/><circle cx="1969.8" cy="1062.7" r="15.3"/><circle cx="1970.2" cy="1007" r="15.3"/><circle cx="1970.5" cy="1122.6" r="15.3"/><circle cx="1970.8" cy="980.5" r="15.3"/><circle cx="1971.1" cy="1100" r="15.3"/><circle cx="1971.4" cy="1087.2" r="15.3"/><circle cx="1971.7" cy="968.8" r="15.3"/><circle cx="1972.1" cy="993.7" r="15.3"/><circle cx="1972.4" cy="963.5" r="15.3"/><circle cx="1972.7" cy="1070.6" r="15.3"/><circle cx="1973" cy="908.7" r="15.3"/><circle cx="1973.3" cy="1146.7" r="15.3"/><circle cx="1973.6" cy="1043.7" r="15.3"/><circle cx="1973.9" cy="963.1" r="15.3"/><circle cx="1974.3" cy="949.5" r="15.3"/><circle cx="1974.6" cy="855.9" r="15.3"/><circle cx="1974.9" cy="873.4" r="15.3"/><circle cx="1975.2" cy="885.4" r="15.3"/><circle cx="1975.5" cy="1096" r="15.3"/><circle cx="1975.8" cy="1033.7" r="15.3"/><circle cx="1976.1" cy="974.9" r="15.3"/><circle cx="1976.4" cy="1003.7" r="15.3"/><circle cx="1976.7" cy="1148.6" r="15.3"/><circle cx="1977.1" cy="965.7" r="15.3"/><circle cx="1977.4" cy="973" r="15.3"/><circle cx="1977.7" cy="1045.6" r="15.3"/><circle cx="1978" cy="1028.1" r="15.3"/><circle cx="1978.3" cy="1001" r="15.3"/><circle cx="1978.6" cy="943.5" r="15.3"/><circle cx="1978.9" cy="1010.6" r="15.3"/><circle cx="1979.2" cy="862" r="15.3"/><circle cx="1979.5" cy="964.6" r="15.3"/><circle cx="1979.8" cy="1017.9" r="15.3"/><circle cx="1980.1" cy="1014.5" r="15.3"/><circle cx="1980.4" cy="890.3" r="15.3"/><circle cx="1980.8" cy="993.4" r="15.3"/><circle cx="1483.2" cy="657.5" r="15.3"/><circle cx="1495.6" cy="823" r="15.3"/><circle cx="1571.8" cy="872" r="15.3"/><circle cx="1604" cy="884" r="15.3"/><circle cx="1669.9" cy="1027.2" r="15.3"/><circle cx="1705.3" cy="1031.7" r="15.3"/><circle cx="1681" cy="992.3" r="15.3"/><circle cx="1743.2" cy="1018.5" r="15.3"/><circle cx="1741.9" cy="1043.7" r="15.3"/><circle cx="1727.3" cy="1071.4" r="15.3"/><circle cx="1776.2" cy="1037" r="15.3"/><circle cx="1773.6" cy="1070.1" r="15.3"/><circle cx="1793.4" cy="1071.4" r="15.3"/><circle cx="1814.6" cy="1045" r="15.3"/><circle cx="1838.4" cy="1070.1" r="15.3"/><circle cx="1825.2" cy="1087.3" r="15.3"/><circle cx="1806.7" cy="1112.4" r="15.3"/><circle cx="1830.5" cy="1111.1" r="15.3"/><circle cx="1854.3" cy="1111.1" r="15.3"/><circle cx="1806.7" cy="1145.5" r="15.3"/><circle cx="1808" cy="1169.3" r="15.3"/><circle cx="1851.6" cy="1148.1" r="15.3"/><circle cx="1879.4" cy="1132.3" r="15.3"/><circle cx="1894" cy="1148.1" r="15.3"/><circle cx="1879.4" cy="1174.6" r="15.3"/><circle cx="1859.6" cy="1203.7" r="15.3"/><circle cx="1888.7" cy="1195.8" r="15.3"/><circle cx="1912.5" cy="1182.5" r="15.3"/><circle cx="1915.1" cy="1211.6" r="15.3"/><circle cx="1882.1" cy="1228.8" r="15.3"/><circle cx="1896.6" cy="1240.7" r="15.3"/><circle cx="1874.1" cy="1250" r="15.3"/><circle cx="1927" cy="1260.6" r="15.3"/><circle cx="1916.5" cy="1300.2" r="15.3"/><circle cx="1942.9" cy="1227.5" r="15.3"/><circle cx="1962.8" cy="1228.8" r="15.3"/><circle cx="1957.5" cy="1250" r="15.3"/><circle cx="1978.6" cy="1197.1" r="15.3"/><circle cx="1981.3" cy="1156.1" r="15.3"/><circle cx="1946.9" cy="1195.8" r="15.3"/><circle cx="1931" cy="1164" r="15.3"/><circle cx="1952.2" cy="1158.7" r="15.3"/><circle cx="1968" cy="1119" r="15.3"/><circle cx="1976" cy="1087.3" r="15.3"/><circle cx="1981.3" cy="1063.5" r="15.3"/><circle cx="1944.2" cy="1124.3" r="15.3"/><circle cx="1917.8" cy="1148.1" r="15.3"/><circle cx="1714" cy="757" r="15.3"/><circle cx="1940.3" cy="819" r="15.3"/><circle cx="1901.9" cy="832.3" r="15.3"/><circle cx="1970.7" cy="827" r="15.3"/><circle cx="1982" cy="853.4" r="15.3"/><circle cx="1716" cy="759" r="15.3"/></g>
<path d="M483.8 173.9h27v28h-27zM514.2 177.9h27v28h-27zM542 181.8h27v28h-27zM567.6 187h27v28h-27zM591.3 190.8h27v28h-27zM613.3 194.9h27v28h-27zM633.9 198.1h27v28h-27zM653.3 201.4h27v28h-27zM671.5 204.5h27v28h-27zM688.8 207h27v28h-27zM705.2 209.3h27v28h-27zM720.8 211.7h27v28h-27zM735.6 214.1h27v28h-27zM749.8 216.4h27v28h-27zM763.4 218.1h27v28h-27zM776.4 219.5h27v28h-27zM789 220.5h27v28h-27zM801 221.2h27v28h-27zM812.6 221.8h27v28h-27zM823.8 222.1h27v28h-27zM834.6 222.4h27v28h-27zM845.1 222.3h27v28h-27zM855.2 221.6h27v28h-27zM865.1 220.5h27v28h-27zM874.6 219.2h27v28h-27zM883.9 217.9h27v28h-27zM892.9 216.6h27v28h-27zM901.6 215.2h27v28h-27zM910.1 213.7h27v28h-27zM918.4 212.3h27v28h-27zM926.5 210.8h27v28h-27zM934.4 209.4h27v28h-27zM942.1 208h27v28h-27zM949.6 206.6h27v28h-27zM956.9 205.3h27v28h-27zM964.1 203.9h27v28h-27zM971.1 202.6h27v28h-27zM978 201.3h27v28h-27zM984.7 200h27v28h-27zM991.3 198.8h27v28h-27zM997.7 197.6h27v28h-27zM1004.1 196.4h27v28h-27zM1010.3 195.2h27v28h-27zM1016.3 194h27v28h-27zM1022.3 192.8h27v28h-27zM1028.2 191.7h27v28h-27zM1033.9 190.6h27v28h-27zM1039.6 189.5h27v28h-27zM1045.1 188.4h27v28h-27zM1050.6 187.3h27v28h-27zM1055.9 186.2h27v28h-27zM1061.2 185.1h27v28h-27zM1066.4 184h27v28h-27zM1071.5 182.9h27v28h-27zM1076.6 181.7h27v28h-27zM1081.5 180.5h27v28h-27zM1086.4 179.4h27v28h-27zM1091.2 178.2h27v28h-27zM1095.9 177.1h27v28h-27zM1100.6 176h27v28h-27zM1105.2 174.8h27v28h-27zM1109.7 173.7h27v28h-27zM1114.2 172.5h27v28h-27zM1118.6 171.5h27v28h-27zM1122.9 170.6h27v28h-27zM1127.2 169.8h27v28h-27zM1131.4 169.3h27v28h-27zM1135.6 168.9h27v28h-27zM1139.7 168.6h27v28h-27zM1143.8 168.4h27v28h-27zM1147.8 168.3h27v28h-27zM1151.8 168.1h27v28h-27zM1155.7 168.1h27v28h-27zM1159.5 168.3h27v28h-27zM1163.4 168.6h27v28h-27zM1167.1 169h27v28h-27zM1170.9 169.7h27v28h-27zM1174.6 170.5h27v28h-27zM1178.2 171.4h27v28h-27zM1181.8 172.5h27v28h-27zM1185.4 173.7h27v28h-27zM1188.9 175.1h27v28h-27zM1192.4 176.6h27v28h-27zM1195.9 178.4h27v28h-27zM1199.3 180.4h27v28h-27zM1202.7 182.6h27v28h-27zM1206 184.9h27v28h-27zM1209.3 187.3h27v28h-27zM1212.6 189.7h27v28h-27zM1215.8 192.2h27v28h-27zM1219 194.5h27v28h-27zM1222.2 196.9h27v28h-27zM1225.3 199.2h27v28h-27zM1228.5 201.6h27v28h-27zM1231.5 204h27v28h-27zM1234.6 206.4h27v28h-27zM1237.6 208.8h27v28h-27zM1240.6 211.2h27v28h-27zM1243.6 213.5h27v28h-27zM1246.5 215.8h27v28h-27zM1249.5 218h27v28h-27zM1252.3 220.2h27v28h-27zM1255.2 222.4h27v28h-27zM1258 224.6h27v28h-27zM1260.9 226.7h27v28h-27zM1263.6 228.9h27v28h-27zM1266.4 231.1h27v28h-27zM1269.1 233.2h27v28h-27zM1271.9 235.4h27v28h-27zM1274.6 237.7h27v28h-27zM1277.2 239.9h27v28h-27zM1279.9 242.2h27v28h-27zM1282.5 244.4h27v28h-27zM1285.1 246.7h27v28h-27zM1287.7 249h27v28h-27zM1290.3 251.3h27v28h-27zM1292.8 253.5h27v28h-27zM1295.3 255.8h27v28h-27zM1297.8 258h27v28h-27zM1300.3 260.3h27v28h-27zM1302.8 262.5h27v28h-27zM1305.2 264.8h27v28h-27zM1307.7 267.1h27v28h-27zM1310.1 269.3h27v28h-27zM1312.5 271.6h27v28h-27zM1314.8 273.8h27v28h-27zM1317.2 276h27v28h-27zM1319.5 278.2h27v28h-27zM1321.8 280.3h27v28h-27zM1324.2 282.5h27v28h-27zM1326.4 284.5h27v28h-27zM1328.7 286.6h27v28h-27zM1331 288.6h27v28h-27zM1333.2 290.6h27v28h-27zM1335.4 292.6h27v28h-27zM1337.6 294.6h27v28h-27zM1339.8 296.6h27v28h-27zM1342 298.5h27v28h-27zM1344.2 300.4h27v28h-27zM1346.3 302.2h27v28h-27zM1348.5 304h27v28h-27zM1350.6 305.7h27v28h-27zM1352.7 307.4h27v28h-27zM1354.8 309h27v28h-27zM1356.9 310.6h27v28h-27zM1358.9 312.1h27v28h-27zM1361 313.6h27v28h-27zM1363 315h27v28h-27zM1365.1 316.5h27v28h-27zM1367.1 317.9h27v28h-27zM1369.1 319.3h27v28h-27zM1371.1 320.7h27v28h-27zM1373 322h27v28h-27zM1375 323.4h27v28h-27zM1377 324.9h27v28h-27zM1378.9 326.3h27v28h-27zM1380.8 327.7h27v28h-27zM1382.7 329.1h27v28h-27zM1384.6 330.5h27v28h-27zM1386.5 331.9h27v28h-27zM1388.4 333.3h27v28h-27zM1390.3 334.7h27v28h-27zM1392.2 336h27v28h-27zM1394 337.4h27v28h-27zM1395.8 338.8h27v28h-27zM1397.7 340.2h27v28h-27zM1399.5 341.6h27v28h-27zM1401.3 343h27v28h-27zM1403.1 344.4h27v28h-27zM1404.9 345.8h27v28h-27zM1406.7 347.3h27v28h-27zM1408.4 348.7h27v28h-27zM1410.2 350.2h27v28h-27zM1411.9 351.7h27v28h-27zM1413.7 353.2h27v28h-27zM1415.4 354.7h27v28h-27zM1417.1 356.2h27v28h-27zM1418.8 357.6h27v28h-27zM1420.6 359.1h27v28h-27zM1422.2 360.6h27v28h-27zM1423.9 362h27v28h-27zM1425.6 363.5h27v28h-27zM1427.3 364.9h27v28h-27zM1428.9 366.3h27v28h-27zM1430.6 367.7h27v28h-27zM1432.2 369h27v28h-27zM1433.9 370.3h27v28h-27zM1435.5 371.6h27v28h-27zM1437.1 372.9h27v28h-27zM1438.7 374.2h27v28h-27zM1440.3 375.4h27v28h-27zM1441.9 376.6h27v28h-27zM1443.5 377.8h27v28h-27zM1445.1 379.1h27v28h-27zM1446.6 380.3h27v28h-27zM1448.2 381.5h27v28h-27zM1449.7 382.7h27v28h-27zM1451.3 384h27v28h-27zM1452.8 385.2h27v28h-27zM1454.4 386.5h27v28h-27zM1455.9 387.8h27v28h-27zM1457.4 389.1h27v28h-27zM1458.9 390.4h27v28h-27zM1460.4 391.8h27v28h-27zM1461.9 393.1h27v28h-27zM1463.4 394.4h27v28h-27zM1464.9 395.8h27v28h-27zM1466.3 397.2h27v28h-27zM1467.8 398.5h27v28h-27zM1469.3 399.9h27v28h-27zM1470.7 401.1h27v28h-27zM1472.2 402.7h27v28h-27zM1473.6 403.7h27v28h-27zM1475.1 405h27v28h-27zM1476.5 406.8h27v28h-27zM1477.9 407.9h27v28h-27zM1479.3 410.1h27v28h-27zM1480.7 410.6h27v28h-27zM1482.1 412.3h27v28h-27zM1483.5 413h27v28h-27zM1484.9 414.7h27v28h-27zM1486.3 416.7h27v28h-27zM1487.7 418.4h27v28h-27zM1489.1 419.6h27v28h-27zM1490.4 422.3h27v28h-27zM1491.8 421.5h27v28h-27zM1493.1 425.4h27v28h-27zM1494.5 424.5h27v28h-27zM1495.8 429h27v28h-27zM1497.2 428.9h27v28h-27zM1498.5 429.9h27v28h-27zM1499.8 432.3h27v28h-27zM1501.2 434.9h27v28h-27zM1502.5 436.9h27v28h-27zM1503.8 435.9h27v28h-27zM1505.1 435.4h27v28h-27zM1506.4 437.6h27v28h-27zM1507.7 442.3h27v28h-27zM1509 443.4h27v28h-27zM1510.3 444.7h27v28h-27zM1511.5 443.4h27v28h-27zM1512.8 446.7h27v28h-27zM1514.1 445.6h27v28h-27zM1515.3 447.4h27v28h-27zM1516.6 449.8h27v28h-27zM1517.9 454.5h27v28h-27zM1519.1 454.3h27v28h-27zM1520.4 456.7h27v28h-27zM1521.6 454.1h27v28h-27zM1522.8 457.3h27v28h-27zM1524.1 457h27v28h-27zM1525.3 459.3h27v28h-27zM1526.5 459.9h27v28h-27zM1527.7 465.4h27v28h-27zM1528.9 463.8h27v28h-27zM1530.1 465.9h27v28h-27zM1531.3 468.2h27v28h-27zM1532.5 470.7h27v28h-27zM1533.7 472.4h27v28h-27zM1534.9 471.8h27v28h-27zM1536.1 472.9h27v28h-27zM1537.3 476.3h27v28h-27zM1538.5 475.1h27v28h-27zM1539.6 476h27v28h-27zM1540.8 479.7h27v28h-27zM1542 478.6h27v28h-27zM1543.1 480.6h27v28h-27zM1544.3 482.3h27v28h-27zM1545.4 484h27v28h-27zM1546.6 484.8h27v28h-27zM1547.7 486.5h27v28h-27zM1548.9 488.1h27v28h-27zM1550 487.4h27v28h-27zM1551.1 492.9h27v28h-27zM1552.2 490.2h27v28h-27zM1553.4 494h27v28h-27zM1554.5 495.5h27v28h-27zM1555.6 496.1h27v28h-27zM1556.7 496.5h27v28h-27zM1557.8 497.2h27v28h-27zM1558.9 500h27v28h-27zM1560 501h27v28h-27zM1561.1 503.2h27v28h-27zM1562.2 503.1h27v28h-27zM1563.3 507.1h27v28h-27zM1564.4 506.9h27v28h-27zM1565.5 505.6h27v28h-27zM1566.5 508.9h27v28h-27zM1567.6 513.1h27v28h-27zM1568.7 509.1h27v28h-27zM1569.7 513.4h27v28h-27zM1570.8 516.5h27v28h-27zM1571.9 514.4h27v28h-27zM1572.9 516.8h27v28h-27zM1574 516.7h27v28h-27zM1575 517.5h27v28h-27zM1576.1 520.2h27v28h-27zM1577.1 521.3h27v28h-27zM1578.1 520.9h27v28h-27zM1579.2 523h27v28h-27zM1580.2 524.3h27v28h-27zM1581.2 526.7h27v28h-27zM1582.3 524.1h27v28h-27zM1583.3 525.5h27v28h-27zM1584.3 527.5h27v28h-27zM1585.3 528.8h27v28h-27zM1586.3 532.8h27v28h-27zM1587.3 531.9h27v28h-27zM1588.3 535.5h27v28h-27zM1589.3 534.1h27v28h-27zM1590.3 534.7h27v28h-27zM1591.3 538h27v28h-27zM1592.3 535.9h27v28h-27zM1593.3 542h27v28h-27zM1594.3 542.3h27v28h-27zM1595.3 540.7h27v28h-27zM1596.3 541.8h27v28h-27zM1597.3 545.8h27v28h-27zM1598.2 546.8h27v28h-27zM1599.2 547.2h27v28h-27zM1600.2 545.1h27v28h-27zM1601.1 550.2h27v28h-27zM1602.1 547.4h27v28h-27zM1603.1 551.8h27v28h-27zM1604 552.6h27v28h-27zM1605 555.8h27v28h-27zM1605.9 555.4h27v28h-27zM1606.9 553.2h27v28h-27zM1607.8 559.5h27v28h-27zM1608.8 559.7h27v28h-27zM1609.7 559.9h27v28h-27zM1610.6 557.9h27v28h-27zM1611.6 563.2h27v28h-27zM1612.5 562.6h27v28h-27zM1613.4 565.3h27v28h-27zM1614.4 568.2h27v28h-27zM1615.3 569.1h27v28h-27zM1616.2 565.6h27v28h-27zM1617.1 570.8h27v28h-27zM1618 570.1h27v28h-27zM1618.9 573.1h27v28h-27zM1619.9 572.3h27v28h-27zM1620.8 573.9h27v28h-27zM1621.7 575.1h27v28h-27zM1622.6 574.6h27v28h-27zM1623.5 577h27v28h-27zM1624.4 580.6h27v28h-27zM1625.3 578.1h27v28h-27zM1626.2 579.6h27v28h-27zM1627.1 585h27v28h-27zM1627.9 585.3h27v28h-27zM1628.8 585.9h27v28h-27zM1629.7 584.7h27v28h-27zM1630.6 586h27v28h-27zM1631.5 588.3h27v28h-27zM1632.3 593.2h27v28h-27zM1633.2 592.2h27v28h-27zM1634.1 595.5h27v28h-27zM1635 592.7h27v28h-27zM1635.8 595.1h27v28h-27zM1636.7 597h27v28h-27zM1637.6 600h27v28h-27zM1638.4 597.1h27v28h-27zM1639.3 602.6h27v28h-27zM1640.1 601.5h27v28h-27zM1641 600.1h27v28h-27zM1641.8 603.6h27v28h-27zM1642.7 604.4h27v28h-27zM1643.5 607.3h27v28h-27zM1644.4 609.9h27v28h-27zM1645.2 608.5h27v28h-27zM1646 610.7h27v28h-27zM1646.9 610.1h27v28h-27zM1647.7 613.5h27v28h-27zM1648.5 610.7h27v28h-27zM1649.4 615.5h27v28h-27zM1650.2 613.2h27v28h-27zM1651 616.7h27v28h-27zM1651.9 615.6h27v28h-27zM1652.7 617.5h27v28h-27zM1653.5 617.5h27v28h-27zM1654.3 619.6h27v28h-27zM1655.1 622.1h27v28h-27zM1655.9 622.7h27v28h-27zM1656.8 623h27v28h-27zM1657.6 625.2h27v28h-27zM1658.4 627.8h27v28h-27zM1659.2 626h27v28h-27zM1660 628.4h27v28h-27zM1660.8 628.8h27v28h-27zM1661.6 632.8h27v28h-27zM1662.4 630h27v28h-27zM1663.2 633.2h27v28h-27zM1664 631.5h27v28h-27zM1664.8 632.7h27v28h-27zM1665.5 636.5h27v28h-27zM1666.3 636.6h27v28h-27zM1667.1 635.8h27v28h-27zM1667.9 635.7h27v28h-27zM1668.7 641.2h27v28h-27zM1669.5 639.6h27v28h-27zM1670.2 642.7h27v28h-27zM1671 642h27v28h-27zM1671.8 644.2h27v28h-27zM1672.6 644.9h27v28h-27zM1673.3 648.4h27v28h-27zM1674.1 649h27v28h-27zM1674.9 647.4h27v28h-27zM1675.6 648.6h27v28h-27zM1676.4 648.1h27v28h-27zM1677.2 652.3h27v28h-27zM1677.9 649.4h27v28h-27zM1678.7 651.7h27v28h-27zM1679.4 655.9h27v28h-27zM1680.2 652.1h27v28h-27zM1680.9 657.1h27v28h-27zM1681.7 657.3h27v28h-27zM1682.4 658.3h27v28h-27zM1683.2 658h27v28h-27zM1683.9 657.9h27v28h-27zM1684.7 663.7h27v28h-27zM1685.4 663.6h27v28h-27zM1686.1 664.9h27v28h-27zM1686.9 661.7h27v28h-27zM1687.6 666.8h27v28h-27zM1688.4 664.4h27v28h-27zM1689.1 665.3h27v28h-27zM1689.8 668.4h27v28h-27zM1690.5 669.9h27v28h-27zM1691.3 667.9h27v28h-27zM1692 672.9h27v28h-27zM1692.7 672.8h27v28h-27zM1693.4 675.8h27v28h-27zM1694.2 677h27v28h-27zM1694.9 676.6h27v28h-27zM1695.6 675.6h27v28h-27zM1696.3 680.3h27v28h-27zM1697 679.9h27v28h-27zM1697.8 678.2h27v28h-27zM1698.5 682.9h27v28h-27zM1699.2 683.1h27v28h-27zM1699.9 681.1h27v28h-27zM1700.6 682h27v28h-27zM1701.3 681.6h27v28h-27zM1702 686h27v28h-27zM1702.7 685.1h27v28h-27zM1703.4 686.4h27v28h-27zM1704.1 687.1h27v28h-27zM1704.8 687.3h27v28h-27zM1705.5 690.7h27v28h-27zM1706.2 690.2h27v28h-27zM1706.9 691.3h27v28h-27zM1707.6 692.2h27v28h-27zM1708.3 694.8h27v28h-27zM1709 698.3h27v28h-27zM1709.6 694.3h27v28h-27zM1710.3 700.1h27v28h-27zM1711 701.1h27v28h-27zM1711.7 700.4h27v28h-27zM1712.4 701h27v28h-27zM1713.1 703.3h27v28h-27zM1713.7 702.9h27v28h-27zM1714.4 704.9h27v28h-27zM1715.1 707.8h27v28h-27zM1715.8 707.8h27v28h-27zM1716.4 705.2h27v28h-27zM1717.1 704.8h27v28h-27zM1717.8 712.2h27v28h-27zM1718.4 709.2h27v28h-27zM1719.1 713.4h27v28h-27zM1719.8 710.6h27v28h-27zM1720.4 713.3h27v28h-27zM1721.1 713.9h27v28h-27zM1721.8 717.8h27v28h-27zM1722.4 720.7h27v28h-27zM1723.1 718.7h27v28h-27zM1723.7 720.5h27v28h-27zM1724.4 720.2h27v28h-27zM1725.1 720.8h27v28h-27zM1725.7 727.6h27v28h-27zM1726.4 722.7h27v28h-27zM1727 730.5h27v28h-27zM1727.7 729.8h27v28h-27zM1728.3 726.8h27v28h-27zM1729 734.5h27v28h-27zM1729.6 729.7h27v28h-27zM1730.2 734.7h27v28h-27zM1730.9 732.5h27v28h-27zM1731.5 740.5h27v28h-27zM1732.2 736.3h27v28h-27zM1732.8 741.8h27v28h-27zM1733.4 736.4h27v28h-27zM1734.1 742.1h27v28h-27zM1734.7 738.2h27v28h-27zM1735.4 738.6h27v28h-27zM1736 743.7h27v28h-27zM1736.6 747.6h27v28h-27zM1737.2 745.9h27v28h-27zM1737.9 747.9h27v28h-27zM1738.5 747.8h27v28h-27zM1739.1 746.1h27v28h-27zM1739.8 742.7h27v28h-27zM1740.4 746.9h27v28h-27zM1741 744.3h27v28h-27zM1741.6 747.6h27v28h-27zM1742.2 746.3h27v28h-27zM1742.9 747.9h27v28h-27zM1743.5 745.3h27v28h-27zM1744.1 750.3h27v28h-27zM1744.7 747.8h27v28h-27zM1745.3 748.6h27v28h-27zM1745.9 744.7h27v28h-27zM1746.6 748.9h27v28h-27zM1747.2 749.8h27v28h-27zM1747.8 754.2h27v28h-27zM1748.4 750.1h27v28h-27zM1749 745.8h27v28h-27zM1749.6 747.6h27v28h-27zM1750.2 748.1h27v28h-27zM1750.8 752.2h27v28h-27zM1751.4 755h27v28h-27zM1752 755.7h27v28h-27zM1752.6 755.6h27v28h-27zM1753.2 755.6h27v28h-27zM1753.8 755.1h27v28h-27zM1754.4 756.3h27v28h-27zM1755 745.9h27v28h-27zM1755.6 751.7h27v28h-27zM1756.2 753.2h27v28h-27zM1756.8 754.8h27v28h-27zM1757.4 754.3h27v28h-27zM1758 754.7h27v28h-27zM1758.6 759.2h27v28h-27zM1759.1 749.1h27v28h-27zM1759.7 755.1h27v28h-27zM1760.3 761.2h27v28h-27zM1760.9 749.8h27v28h-27zM1761.5 751.4h27v28h-27zM1762.1 761.8h27v28h-27zM1762.7 763.6h27v28h-27zM1763.2 751.8h27v28h-27zM1763.8 752.4h27v28h-27zM1764.4 763.8h27v28h-27zM1765 762.5h27v28h-27zM1765.5 760.8h27v28h-27zM1766.1 762.2h27v28h-27zM1766.7 765.3h27v28h-27zM1767.3 766.7h27v28h-27zM1767.8 755.9h27v28h-27zM1768.4 757.4h27v28h-27zM1769 768.5h27v28h-27zM1769.6 771.8h27v28h-27zM1770.1 770.4h27v28h-27zM1770.7 764.8h27v28h-27zM1771.3 764.4h27v28h-27zM1771.8 765.2h27v28h-27zM1772.4 760.8h27v28h-27zM1773 772.9h27v28h-27zM1773.5 765.8h27v28h-27zM1774.1 771.4h27v28h-27zM1774.6 771.2h27v28h-27zM1775.2 768.8h27v28h-27zM1775.8 774.9h27v28h-27zM1776.3 772h27v28h-27zM1776.9 769.1h27v28h-27zM1777.4 780.2h27v28h-27zM1778 769.4h27v28h-27zM1778.5 769.6h27v28h-27zM1779.1 772h27v28h-27zM1779.6 776.3h27v28h-27zM1780.2 782.1h27v28h-27zM1780.7 775.1h27v28h-27zM1781.3 774.1h27v28h-27zM1781.8 781.9h27v28h-27zM1782.4 775.7h27v28h-27zM1782.9 780.9h27v28h-27zM1783.5 776.8h27v28h-27zM1784 788.3h27v28h-27zM1784.6 776.7h27v28h-27zM1785.1 778.1h27v28h-27zM1785.6 780h27v28h-27zM1786.2 781h27v28h-27zM1786.7 788.8h27v28h-27zM1787.3 788.5h27v28h-27zM1787.8 791.3h27v28h-27zM1788.3 787.3h27v28h-27zM1788.9 779.4h27v28h-27zM1789.4 792.8h27v28h-27zM1789.9 783.7h27v28h-27zM1790.5 783.8h27v28h-27zM1791 788.2h27v28h-27zM1791.5 799.8h27v28h-27zM1792.1 788.6h27v28h-27zM1792.6 789h27v28h-27zM1793.1 800.4h27v28h-27zM1793.7 802.6h27v28h-27zM1794.2 791.5h27v28h-27zM1794.7 787.2h27v28h-27zM1795.2 800.7h27v28h-27zM1795.8 801.3h27v28h-27zM1796.3 793.1h27v28h-27zM1796.8 802.8h27v28h-27zM1797.3 795.2h27v28h-27zM1797.9 793.9h27v28h-27zM1798.4 800.8h27v28h-27zM1798.9 804.4h27v28h-27zM1799.4 799.6h27v28h-27zM1799.9 807.3h27v28h-27zM1800.4 791.2h27v28h-27zM1801 801.9h27v28h-27zM1801.5 800h27v28h-27zM1802 793.9h27v28h-27zM1802.5 812.4h27v28h-27zM1803 796.6h27v28h-27zM1803.5 798.5h27v28h-27zM1804 813.4h27v28h-27zM1804.6 815.8h27v28h-27zM1805.1 815.7h27v28h-27zM1805.6 803.4h27v28h-27zM1806.1 816.8h27v28h-27zM1806.6 800h27v28h-27zM1807.1 813.1h27v28h-27zM1807.6 818.7h27v28h-27zM1808.1 802.4h27v28h-27zM1808.6 801.5h27v28h-27zM1809.1 814.1h27v28h-27zM1809.6 819.1h27v28h-27zM1810.1 816h27v28h-27zM1810.6 821.5h27v28h-27zM1811.1 810.5h27v28h-27zM1811.6 809h27v28h-27zM1812.1 803.5h27v28h-27zM1812.6 807.3h27v28h-27zM1813.1 823.1h27v28h-27zM1813.6 803.1h27v28h-27zM1814.1 805.9h27v28h-27zM1814.6 810h27v28h-27zM1815.1 803.1h27v28h-27zM1815.6 809.4h27v28h-27zM1816.1 806.5h27v28h-27zM1816.6 805.2h27v28h-27zM1817.1 815.1h27v28h-27zM1817.5 815.5h27v28h-27zM1818 816.3h27v28h-27zM1818.5 821.2h27v28h-27zM1819 815.5h27v28h-27zM1819.5 826h27v28h-27zM1820 804.7h27v28h-27zM1820.5 808.2h27v28h-27zM1821 804.6h27v28h-27zM1821.4 810.5h27v28h-27zM1821.9 821.8h27v28h-27zM1822.4 826h27v28h-27zM1822.9 815.4h27v28h-27zM1823.4 806.8h27v28h-27zM1823.8 811.1h27v28h-27zM1824.3 817.2h27v28h-27zM1824.8 810.2h27v28h-27zM1825.3 823h27v28h-27zM1825.8 827.7h27v28h-27zM1826.2 814.5h27v28h-27zM1826.7 818.2h27v28h-27zM1827.2 824.6h27v28h-27zM1827.7 814.7h27v28h-27zM1828.1 807.5h27v28h-27zM1828.6 827.4h27v28h-27zM1829.1 828.4h27v28h-27zM1829.6 803.1h27v28h-27zM1830 822.8h27v28h-27zM1830.5 813.2h27v28h-27zM1831 803.8h27v28h-27zM1831.4 806.8h27v28h-27zM1831.9 807.2h27v28h-27zM1832.4 822.5h27v28h-27zM1832.8 808.3h27v28h-27zM1833.3 803.1h27v28h-27zM1833.8 808.7h27v28h-27zM1834.2 824.7h27v28h-27zM1834.7 816.6h27v28h-27zM1835.2 821h27v28h-27zM1835.6 816h27v28h-27zM1836.1 808.2h27v28h-27zM1836.6 803.7h27v28h-27zM1837 812h27v28h-27zM1837.5 804.7h27v28h-27zM1837.9 811.1h27v28h-27zM1838.4 821.5h27v28h-27zM1838.8 814.7h27v28h-27zM1839.3 817.9h27v28h-27zM1839.8 822.5h27v28h-27zM1840.2 813.9h27v28h-27zM1840.7 815.3h27v28h-27zM1841.1 830.9h27v28h-27zM1841.6 822.3h27v28h-27zM1842 817.8h27v28h-27zM1842.5 821.7h27v28h-27zM1842.9 819.6h27v28h-27zM1843.4 816.1h27v28h-27zM1843.8 833.7h27v28h-27zM1844.3 813.7h27v28h-27zM1844.7 835h27v28h-27zM1845.2 832.9h27v28h-27zM1845.6 834.1h27v28h-27zM1846.1 812.6h27v28h-27zM1846.5 823.5h27v28h-27zM1847 838.3h27v28h-27zM1847.4 817.4h27v28h-27zM1847.9 814h27v28h-27zM1848.3 831.4h27v28h-27zM1848.8 816.6h27v28h-27zM1849.2 827.7h27v28h-27zM1849.7 814.8h27v28h-27zM1850.1 839.8h27v28h-27zM1850.5 819.4h27v28h-27zM1851 813.9h27v28h-27zM1851.4 832.8h27v28h-27zM1851.9 822.4h27v28h-27zM1852.3 829.5h27v28h-27zM1852.7 827.9h27v28h-27zM1853.2 841.9h27v28h-27zM1853.6 829.2h27v28h-27zM1854.1 825.2h27v28h-27zM1854.5 813.4h27v28h-27zM1854.9 829.8h27v28h-27zM1855.4 822.8h27v28h-27zM1855.8 833.1h27v28h-27zM1856.2 835.4h27v28h-27zM1856.7 830.2h27v28h-27zM1857.1 818.4h27v28h-27zM1857.5 832.2h27v28h-27zM1858 832.1h27v28h-27zM1858.4 837.8h27v28h-27zM1858.8 849.2h27v28h-27zM1859.3 826.6h27v28h-27zM1859.7 832.5h27v28h-27zM1860.1 820.8h27v28h-27zM1860.5 845.4h27v28h-27zM1861 826.8h27v28h-27zM1861.4 847.4h27v28h-27zM1861.8 846.9h27v28h-27zM1862.2 828.9h27v28h-27zM1862.7 851.6h27v28h-27zM1863.1 838.4h27v28h-27zM1863.5 836.3h27v28h-27zM1863.9 841.3h27v28h-27zM1864.4 855.4h27v28h-27zM1864.8 840.1h27v28h-27zM1865.2 840.4h27v28h-27zM1865.6 834.2h27v28h-27zM1866.1 854.1h27v28h-27zM1866.5 842.8h27v28h-27zM1866.9 837.7h27v28h-27zM1867.3 833.1h27v28h-27zM1867.7 834.3h27v28h-27zM1868.1 856.9h27v28h-27zM1868.6 856.4h27v28h-27zM1869 863.2h27v28h-27zM1869.4 861.6h27v28h-27zM1869.8 853.9h27v28h-27zM1870.2 858.5h27v28h-27zM1870.6 855.9h27v28h-27zM1871.1 860h27v28h-27zM1871.5 860.3h27v28h-27zM1871.9 838h27v28h-27zM1872.3 861.9h27v28h-27zM1872.7 843.6h27v28h-27zM1873.1 841.9h27v28h-27zM1873.5 867.3h27v28h-27zM1873.9 834.7h27v28h-27zM1874.4 853.2h27v28h-27zM1874.8 847.4h27v28h-27zM1875.2 864.5h27v28h-27zM1875.6 858.2h27v28h-27zM1876 869.8h27v28h-27zM1876.4 871.1h27v28h-27zM1876.8 860.6h27v28h-27zM1877.2 839.1h27v28h-27zM1877.6 862.2h27v28h-27zM1878 841.3h27v28h-27zM1878.4 874.8h27v28h-27zM1878.8 870.9h27v28h-27zM1879.2 849.8h27v28h-27zM1879.6 845.2h27v28h-27zM1880 865h27v28h-27zM1880.4 867.7h27v28h-27zM1880.8 876.8h27v28h-27zM1881.2 863h27v28h-27zM1881.6 843.9h27v28h-27zM1882 867.5h27v28h-27zM1882.4 841.6h27v28h-27zM1882.8 873.4h27v28h-27zM1883.2 869.7h27v28h-27zM1883.6 870.6h27v28h-27zM1884 874.2h27v28h-27zM1884.4 862.4h27v28h-27zM1884.8 877.3h27v28h-27zM1885.2 865.4h27v28h-27zM1885.6 859.7h27v28h-27zM1886 855.5h27v28h-27zM1886.4 854.4h27v28h-27zM1886.8 841.2h27v28h-27zM1887.2 846.8h27v28h-27zM1887.6 872.3h27v28h-27zM1888 849.7h27v28h-27zM1888.4 866.8h27v28h-27zM1888.8 871.7h27v28h-27zM1889.2 868.6h27v28h-27zM1889.6 861.4h27v28h-27zM1889.9 853.4h27v28h-27zM1890.3 851.7h27v28h-27zM1890.7 848.3h27v28h-27zM1891.1 866.9h27v28h-27zM1891.5 868.5h27v28h-27zM1891.9 878.8h27v28h-27zM1892.3 854.1h27v28h-27zM1892.7 878.3h27v28h-27zM1893.1 877.7h27v28h-27zM1893.4 852.5h27v28h-27zM1893.8 879.3h27v28h-27zM1894.2 865.9h27v28h-27zM1894.6 879.8h27v28h-27zM1895 872.1h27v28h-27zM1895.4 854.2h27v28h-27zM1895.7 852h27v28h-27zM1896.1 861.9h27v28h-27zM1896.5 860.5h27v28h-27zM1896.9 842h27v28h-27zM1897.3 875.7h27v28h-27zM1897.7 862.3h27v28h-27zM1898 859.8h27v28h-27zM1898.4 870.8h27v28h-27zM1898.8 850.6h27v28h-27zM1899.2 848.5h27v28h-27zM1899.6 864.1h27v28h-27zM1899.9 850.2h27v28h-27zM1900.3 853.7h27v28h-27zM1900.7 843.1h27v28h-27zM1901.1 842.3h27v28h-27zM1901.4 854.7h27v28h-27zM1901.8 861.7h27v28h-27zM1902.2 879.1h27v28h-27zM1902.6 866.3h27v28h-27zM1902.9 857h27v28h-27zM1903.3 856.7h27v28h-27zM1903.7 849.6h27v28h-27zM1904.1 859.4h27v28h-27zM1904.4 879.5h27v28h-27zM1904.8 844.8h27v28h-27zM1905.2 857.7h27v28h-27zM1905.6 868.1h27v28h-27zM1905.9 871.2h27v28h-27zM1906.3 862.6h27v28h-27zM1906.7 866.1h27v28h-27zM1907 878.4h27v28h-27zM1907.4 876.8h27v28h-27zM1907.8 849.7h27v28h-27zM1908.2 861.6h27v28h-27zM1908.5 880.5h27v28h-27zM1908.9 860.9h27v28h-27zM1909.3 846.7h27v28h-27zM1909.6 870.6h27v28h-27zM1910 840.9h27v28h-27zM1910.4 844.7h27v28h-27zM1910.7 861.3h27v28h-27zM1911.1 849.5h27v28h-27zM1911.5 868h27v28h-27zM1911.8 868.2h27v28h-27zM1912.2 851h27v28h-27zM1912.5 869.6h27v28h-27zM1912.9 864.5h27v28h-27zM1913.3 866.8h27v28h-27zM1913.6 856.2h27v28h-27zM1914 855h27v28h-27zM1914.4 841.2h27v28h-27zM1914.7 856.5h27v28h-27zM1915.1 876.5h27v28h-27zM1915.4 873.6h27v28h-27zM1915.8 838.4h27v28h-27zM1916.2 838.9h27v28h-27zM1916.5 847.1h27v28h-27zM1916.9 864.9h27v28h-27zM1917.2 853.9h27v28h-27zM1917.6 840.6h27v28h-27zM1918 853h27v28h-27zM1918.3 859.1h27v28h-27zM1918.7 866.2h27v28h-27zM1919 851.7h27v28h-27zM1919.4 862h27v28h-27zM1919.7 863.2h27v28h-27zM1920.1 860.3h27v28h-27zM1920.4 836h27v28h-27zM1920.8 864h27v28h-27zM1921.2 839.2h27v28h-27zM1921.5 835.9h27v28h-27zM1921.9 853.6h27v28h-27zM1922.2 834.1h27v28h-27zM1922.6 836.3h27v28h-27zM1922.9 849.8h27v28h-27zM1923.3 853h27v28h-27zM1923.6 837.4h27v28h-27zM1924 873.5h27v28h-27zM1924.3 869.1h27v28h-27zM1924.7 853.4h27v28h-27zM1925 857.7h27v28h-27zM1925.4 846h27v28h-27zM1925.7 874.6h27v28h-27zM1926.1 837.5h27v28h-27zM1926.4 845.4h27v28h-27zM1926.8 841.8h27v28h-27zM1927.1 869.4h27v28h-27zM1927.5 854.1h27v28h-27zM1927.8 849.8h27v28h-27zM1928.2 849.3h27v28h-27zM1928.5 870.4h27v28h-27zM1928.8 843.3h27v28h-27zM1929.2 866.3h27v28h-27zM1929.5 862.8h27v28h-27zM1929.9 851.6h27v28h-27zM1930.2 848.1h27v28h-27zM1930.6 851.2h27v28h-27zM1930.9 852h27v28h-27zM1931.3 846.2h27v28h-27zM1931.6 859.6h27v28h-27zM1931.9 850.5h27v28h-27zM1932.3 845.9h27v28h-27zM1932.6 866.4h27v28h-27zM1933 852.7h27v28h-27zM1933.3 853.7h27v28h-27zM1933.6 871.4h27v28h-27zM1934 853.1h27v28h-27zM1934.3 849.8h27v28h-27zM1934.7 872.7h27v28h-27zM1935 876.3h27v28h-27zM1935.3 868.1h27v28h-27zM1935.7 851.6h27v28h-27zM1936 863.5h27v28h-27zM1936.4 866.7h27v28h-27zM1936.7 847.5h27v28h-27zM1937 866.3h27v28h-27zM1937.4 876.4h27v28h-27zM1937.7 863.7h27v28h-27zM1938 864.5h27v28h-27zM1938.4 854.4h27v28h-27zM1938.7 864.2h27v28h-27zM1939 845.7h27v28h-27zM1939.4 869.7h27v28h-27zM1939.7 859.8h27v28h-27zM1940 879.3h27v28h-27zM1940.4 851.5h27v28h-27zM1940.7 868h27v28h-27zM1941 837.6h27v28h-27zM1941.4 855.4h27v28h-27zM1941.7 871h27v28h-27zM1942 848.8h27v28h-27zM1942.4 864.7h27v28h-27zM1942.7 847.4h27v28h-27zM1943 855.5h27v28h-27zM1943.4 882.3h27v28h-27zM1943.7 846.8h27v28h-27zM1944 879.2h27v28h-27zM1944.4 840.9h27v28h-27zM1944.7 864.8h27v28h-27zM1945 875.8h27v28h-27zM1945.3 876.7h27v28h-27zM1945.7 856.6h27v28h-27zM1946 865.9h27v28h-27zM1946.3 871.7h27v28h-27zM1946.7 874.1h27v28h-27zM1947 873.6h27v28h-27zM1947.3 866.1h27v28h-27zM1947.6 851.1h27v28h-27zM1948 872.3h27v28h-27zM1948.3 865.8h27v28h-27zM1948.6 865.2h27v28h-27zM1948.9 886.2h27v28h-27zM1949.3 846.4h27v28h-27zM1949.6 877h27v28h-27zM1949.9 855.6h27v28h-27zM1950.2 874.9h27v28h-27zM1950.5 885.7h27v28h-27zM1950.9 853.7h27v28h-27zM1951.2 867.9h27v28h-27zM1951.5 866.2h27v28h-27zM1951.8 864.8h27v28h-27zM1952.2 849.2h27v28h-27zM1952.5 871.5h27v28h-27zM1952.8 884.7h27v28h-27zM1953.1 873.8h27v28h-27zM1953.4 855.7h27v28h-27zM1953.8 881.2h27v28h-27zM1954.1 862.5h27v28h-27zM1954.4 849.1h27v28h-27zM1954.7 872h27v28h-27zM1955 865h27v28h-27zM1955.4 868.6h27v28h-27zM1955.7 891.7h27v28h-27zM1956 870.9h27v28h-27zM1956.3 890.3h27v28h-27zM1956.6 860.5h27v28h-27zM1956.9 881h27v28h-27zM1957.3 846.8h27v28h-27zM1957.6 858.3h27v28h-27zM1957.9 878.2h27v28h-27zM1958.2 878.3h27v28h-27zM1958.5 885.5h27v28h-27zM1958.8 862.8h27v28h-27zM1959.1 857.5h27v28h-27zM1959.5 862h27v28h-27zM1959.8 871.3h27v28h-27zM1960.1 845h27v28h-27zM1960.4 863.1h27v28h-27zM1960.7 877.8h27v28h-27zM1961 851.6h27v28h-27zM1961.3 860.1h27v28h-27zM1961.6 889.4h27v28h-27zM1962 892.7h27v28h-27zM1962.3 857.2h27v28h-27zM1962.6 853.6h27v28h-27zM1962.9 850.5h27v28h-27zM1963.2 849h27v28h-27zM1963.5 885.9h27v28h-27zM1963.8 883.1h27v28h-27zM1964.1 858.5h27v28h-27zM1964.4 870.2h27v28h-27zM1964.8 881h27v28h-27zM1965.1 846.3h27v28h-27zM1965.4 887.5h27v28h-27zM1965.7 889.7h27v28h-27zM1966 856h27v28h-27zM1966.3 881.7h27v28h-27zM1966.6 881.5h27v28h-27zM1966.9 862.7h27v28h-27zM1967.2 890.9h27v28h-27zM1967.5 856.6h27v28h-27zM1967.8 869.9h27v28h-27zM1968.1 861.6h27v28h-27zM1968.4 868.3h27v28h-27zM1968.7 887.6h27v28h-27zM1969 875h27v28h-27zM1969.1 877.1h27v28h-27zM1969.1 896.8h27v28h-27zM1969.1 857.1h27v28h-27zM1969.1 857.1h27v28h-27zM1969.1 840.2h27v28h-27zM1969.1 866h27v28h-27zM1969.1 892h27v28h-27zM1969.1 906.1h27v28h-27zM1969.1 942.1h27v28h-27zM1969.1 961.7h27v28h-27z" fill="#ff00ff"/>
</g>
<path d="M529 462.2 L537.5 462.1 L546 462 L554.5 462 L562.9 462.1 L571.4 462.2 L579.9 462.3 L588.4 462.5 L596.9 462.8 L605.4 463.1 L613.9 463.4 L622.4 463.7 L630.8 464.1 L639.3 464.5 L647.8 464.9 L656.3 465.3 L664.8 465.8 L673.3 466.2 L681.8 466.7 L690.3 467.1 L698.7 467.6 L707.2 468.1 L715.7 468.5 L724.2 469 L732.7 469.4 L741.2 469.9 L749.7 470.3 L758.2 470.8 L766.6 471.2 L775.1 471.7 L783.6 472.2 L792.1 472.7 L800.6 473.2 L809.1 473.7 L817.6 474.2 L826.1 474.8 L834.5 475.4 L843 476 L851.5 476.7 L860 477.4 L868.5 478.2 L877 479 L885.5 479.8 L894 480.8 L902.4 481.8 L910.9 482.9 L919.4 484 L927.9 485.2 L936.4 486.6 L944.9 487.9 L953.4 489.4 L961.8 491 L970.3 492.7 L978.8 494.4 L987.3 496.3 L995.8 498.2 L1004.3 500.3 L1012.8 502.4 L1021.3 504.7 L1029.7 507 L1038.2 509.5 L1046.7 512 L1055.2 514.6 L1063.7 517.4 L1072.2 520.2 L1080.7 523.1 L1089.2 526.1 L1097.6 529.2 L1106.1 532.4 L1114.6 535.6 L1123.1 539 L1131.6 542.4 L1140.1 545.8 L1148.6 549.4 L1157.1 553 L1165.5 556.7 L1174 560.4 L1182.5 564.2 L1191 568 L1199.5 571.9 L1208 575.8 L1216.5 579.7 L1225 583.7 L1233.4 587.7 L1241.9 591.8 L1250.4 595.8 L1258.9 599.9 L1267.4 604 L1275.9 608.2 L1284.4 612.3 L1292.9 616.5 L1301.3 620.7 L1309.8 624.8 L1318.3 629 L1326.8 633.3 L1335.3 637.5 L1343.8 641.7 L1352.3 646 L1360.8 650.2 L1369.2 654.5 L1377.7 658.8 L1386.2 663.1 L1394.7 667.5 L1403.2 671.9 L1411.7 676.3 L1420.2 680.7 L1428.6 685.2 L1437.1 689.7 L1445.6 694.2 L1454.1 698.8 L1462.6 703.5 L1471.1 708.2 L1479.6 713 L1488.1 717.9 L1496.5 722.8 L1505 727.8 L1513.5 732.9 L1522 738.2 L1530.5 743.5 L1539 748.9 L1547.5 754.5 L1556 760.1 L1564.4 766 L1572.9 771.9 L1581.4 778 L1589.9 784.3 L1598.4 790.7 L1606.9 797.4 L1615.4 804.2 L1623.9 811.2 L1632.3 818.4 L1640.8 825.8 L1649.3 833.5 L1657.8 841.4 L1666.3 849.5 L1674.8 858 L1683.3 866.7 L1691.8 875.7 L1700.2 885.1 L1708.7 894.8 L1717.2 904.8 L1725.7 915.3 L1734.2 926.2 L1742.7 937.5 L1751.2 949.3 L1759.7 961.6 L1768.1 974.5 L1776.6 988 L1785.1 1002.1 L1793.6 1016.9" fill="none" stroke="#ff0000" stroke-width="11" stroke-linecap="round" stroke-linejoin="round"/>
<rect x="553.8" y="522.2" width="217.2" height="10.8" rx="3.5" fill="#000"/>
<line x1="1107.4" y1="628.4" x2="1298.3" y2="714.1" stroke="#000" stroke-width="11.5" stroke-linecap="round" />
<line x1="1558.5" y1="959.4" x2="1677.1" y2="1100.2" stroke="#000" stroke-width="11.5" stroke-linecap="round" />
<text transform="translate(655.2 610.5) scale(0.96 1)" font-size="74">0</text>
<text transform="translate(1152.5 776.6) scale(0.97 1)" font-size="73">-1</text>
<text transform="translate(1472.5 1105.5) scale(0.96 1)" font-size="74">-2.8</text>
<path d="M1170.3 206.5 H1174.9 L1190.8 259.5 H1176.3 V287.6 a3.7 3.7 0 0 1 -7.4 0 V259.5 H1154.4 Z" fill="#000" stroke="#000" stroke-width="4" stroke-linejoin="round"/>
<circle cx="1627" cy="166.3" r="15.2" fill="#008000"/>
<rect x="1613.9" y="232" width="26.3" height="27.7" fill="#ff00ff"/>
<line x1="1558" y1="326" x2="1697" y2="326" stroke="#ff0000" stroke-width="11.5" stroke-linecap="round" />
<text x="1714.5" y="188.5" font-size="63">5 mg/ml</text>
<text x="1714.5" y="269" font-size="63">50 mg/ml</text>
<text x="1715" y="347.3" font-size="63">fitting</text>
<g id="inset">
<defs><pattern id="stip" width="2.2" height="2.2" patternUnits="userSpaceOnUse"><rect width="2.2" height="2.2" fill="#c4e2f4"/><rect width="1.1" height="1.1" fill="#5fb0de"/></pattern></defs>
<rect x="685.5" y="859" width="259" height="46" fill="url(#stip)"/>
<ellipse cx="731.9" cy="866.5" rx="8.5" ry="6" fill="#3f93c6"/>
<ellipse cx="766.1" cy="866.5" rx="8.5" ry="6" fill="#3f93c6"/>
<ellipse cx="800" cy="866.5" rx="8.5" ry="6" fill="#3f93c6"/>
<ellipse cx="833.9" cy="866.5" rx="8.5" ry="6" fill="#3f93c6"/>
<ellipse cx="868.1" cy="866.5" rx="8.5" ry="6" fill="#3f93c6"/>
<ellipse cx="902.2" cy="866.5" rx="8.5" ry="6" fill="#3f93c6"/>
<ellipse cx="715.8" cy="895.5" rx="8.5" ry="6.5" fill="#1e9ad7"/>
<rect x="713.3" y="886" width="5" height="8" fill="#1e9ad7"/>
<ellipse cx="749.4" cy="895.5" rx="8.5" ry="6.5" fill="#1e9ad7"/>
<rect x="746.9" y="886" width="5" height="8" fill="#1e9ad7"/>
<ellipse cx="783.3" cy="895.5" rx="8.5" ry="6.5" fill="#1e9ad7"/>
<rect x="780.8" y="886" width="5" height="8" fill="#1e9ad7"/>
<ellipse cx="817.2" cy="895.5" rx="8.5" ry="6.5" fill="#1e9ad7"/>
<rect x="814.7" y="886" width="5" height="8" fill="#1e9ad7"/>
<ellipse cx="851.4" cy="895.5" rx="8.5" ry="6.5" fill="#1e9ad7"/>
<rect x="848.9" y="886" width="5" height="8" fill="#1e9ad7"/>
<ellipse cx="885.3" cy="895.5" rx="8.5" ry="6.5" fill="#1e9ad7"/>
<rect x="882.8" y="886" width="5" height="8" fill="#1e9ad7"/>
<ellipse cx="919.4" cy="895.5" rx="8.5" ry="6.5" fill="#1e9ad7"/>
<rect x="916.9" y="886" width="5" height="8" fill="#1e9ad7"/>
<path d="M697 873.5 L740 872 L800 873 L860 871.5 L930 873 L931 889 L870 889.5 L800 888.5 L740 890 L698 889 Z" fill="#0b3d91"/>
<path d="M718.2 951.0L740.7 952.1M727.7 956.1L740.6 956.1M759.5 969.9L745.7 969.9M806.8 977.6L814.9 999.0M686.9 984.5L697.5 996.4M656.3 1004.3L674.2 1017.6M727.7 1000.8L741.4 997.4M772.4 997.4L784.3 1015.9M768.9 1012.9L775.5 1022.1M643.4 1031.8L658.1 1041.0M701.0 1030.1L682.8 1009.6M726.8 1038.7L749.1 1035.8M808.5 1029.2L795.3 1008.8M778.4 1043.8L767.1 1028.0M617.6 1063.6L633.0 1071.3M676.9 1056.7L656.3 1043.8M776.7 1055.8L762.5 1061.5M744.9 1064.4L761.0 1057.9M805.0 1081.6L792.0 1104.2M656.3 1094.5L633.1 1094.8M600.4 1098.8L593.9 1113.8M609.9 1104.0L604.9 1118.5M757.8 1102.3L771.5 1088.5M770.6 1112.6L775.0 1131.0M733.7 1120.3L746.2 1141.3M668.3 1127.2L650.0 1143.0M587.5 1133.2L595.6 1114.6M615.0 1136.7L619.5 1123.4M656.3 1134.9L650.0 1143.0M709.6 1138.4L718.5 1156.2M817.9 1098.8L811.4 1115.1M936.4 953.5L947.7 964.6M875.3 969.0L878.8 991.4M845.8 977.6L845.2 996.7M810.0 975.0L818.6 997.5M909.4 980.2L905.0 997.9M961.3 988.8L949.4 1001.7M915.8 1002.5L915.9 1000.1M883.9 1021.5L890.7 994.4M810.0 1028.3L796.7 1007.8M897.7 1036.9L922.6 1039.7M948.4 1031.8L962.0 1014.0M896.8 1067.9L917.6 1069.9M941.5 1068.7L934.7 1078.7M961.3 1075.6L948.0 1089.0M985.4 1099.7L971.7 1112.6M930.4 1100.6L914.7 1099.0M820.3 1100.6L814.0 1116.2M838.4 1102.3L826.0 1121.0M896.0 1110.9L913.4 1112.6M942.4 1112.6L957.0 1097.9M939.0 1122.9L934.0 1137.2M968.2 1126.3L977.0 1119.8M861.6 1121.2L868.3 1141.0M1002.6 1134.9L987.1 1140.0M816.9 1134.9L815.3 1135.6M832.4 1136.7L833.0 1149.6M951.0 1133.2L950.0 1142.3M588.4 1138.6L598.3 1115.8M615.0 1136.9L619.6 1123.5M623.6 1154.1L633.9 1153.9M658.0 1135.2L650.0 1143.0M673.5 1157.5L659.3 1164.1M709.6 1138.6L718.4 1156.3M687.2 1159.2L695.1 1167.7M768.9 1157.5L761.8 1135.2M788.7 1143.8L785.7 1128.9M809.3 1140.3L816.1 1137.4M735.4 1173.8L725.0 1153.0M652.9 1188.5L666.6 1175.9M707.0 1185.9L692.5 1170.2M701.9 1200.5L692.5 1206.4M808.5 1179.0L834.4 1172.6M646.0 1223.7L663.4 1229.1M713.9 1222.9L699.3 1228.5M687.2 1236.6L700.5 1231.5M775.8 1231.5L785.0 1253.2M811.1 1222.9L830.6 1226.3M749.2 1252.1L761.0 1268.1M683.8 1259.0L707.0 1254.4M726.8 1272.7L708.0 1272.8M805.9 1271.0L820.2 1278.2M772.4 1289.9L757.9 1270.4M787.8 1298.5L805.0 1309.6M813.6 1336.3L795.8 1323.6M816.9 1138.6L816.6 1138.7M835.8 1138.6L836.3 1149.4M1000.9 1136.9L987.1 1140.0M906.3 1145.5L906.1 1133.2M1000.9 1148.9L992.3 1157.4M891.7 1161.8L884.9 1136.4M928.7 1172.1L946.7 1164.5M856.4 1176.4L836.6 1181.3M968.2 1176.4L980.5 1177.3M1045.6 1173.0L1034.4 1182.6M856.4 1186.7L837.5 1185.0M997.4 1176.4L1000.9 1164.9M1007.8 1193.6L1021.9 1173.4M1004.3 1207.4L978.4 1213.3M955.3 1215.1L977.7 1210.1M813.4 1219.4L831.3 1222.7M851.3 1228.0L831.0 1224.3M882.2 1231.5L878.8 1252.0M990.6 1241.8L976.0 1235.7M914.0 1251.2L905.1 1266.1M946.7 1255.5L966.6 1261.4M961.3 1275.3L963.2 1275.7M849.6 1272.7L852.6 1250.3M884.8 1283.0L897.6 1261.7M975.9 1290.8L960.7 1288.0M834.1 1290.8L817.9 1282.7M924.4 1298.5L935.4 1279.1M813.4 1336.3L795.8 1323.7M810.0 1271.0L821.0 1276.5" stroke="#1e9ad7" stroke-width="6" fill="none"/>
<g fill="#1e9ad7"><circle cx="718.2" cy="951.0" r="8.3"/><circle cx="727.7" cy="956.1" r="8.3"/><circle cx="759.5" cy="969.9" r="8.3"/><circle cx="806.8" cy="977.6" r="8.3"/><circle cx="686.9" cy="984.5" r="8.3"/><circle cx="656.3" cy="1004.3" r="8.3"/><circle cx="727.7" cy="1000.8" r="8.3"/><circle cx="772.4" cy="997.4" r="8.3"/><circle cx="768.9" cy="1012.9" r="8.3"/><circle cx="643.4" cy="1031.8" r="8.3"/><circle cx="701.0" cy="1030.1" r="8.3"/><circle cx="726.8" cy="1038.7" r="8.3"/><circle cx="808.5" cy="1029.2" r="8.3"/><circle cx="778.4" cy="1043.8" r="8.3"/><circle cx="617.6" cy="1063.6" r="8.3"/><circle cx="676.9" cy="1056.7" r="8.3"/><circle cx="776.7" cy="1055.8" r="8.3"/><circle cx="744.9" cy="1064.4" r="8.3"/><circle cx="805.0" cy="1081.6" r="8.3"/><circle cx="656.3" cy="1094.5" r="8.3"/><circle cx="600.4" cy="1098.8" r="8.3"/><circle cx="609.9" cy="1104.0" r="8.3"/><circle cx="757.8" cy="1102.3" r="8.3"/><circle cx="770.6" cy="1112.6" r="8.3"/><circle cx="733.7" cy="1120.3" r="8.3"/><circle cx="668.3" cy="1127.2" r="8.3"/><circle cx="587.5" cy="1133.2" r="8.3"/><circle cx="615.0" cy="1136.7" r="8.3"/><circle cx="656.3" cy="1134.9" r="8.3"/><circle cx="709.6" cy="1138.4" r="8.3"/><circle cx="817.9" cy="1098.8" r="8.3"/><circle cx="936.4" cy="953.5" r="8.3"/><circle cx="875.3" cy="969.0" r="8.3"/><circle cx="845.8" cy="977.6" r="8.3"/><circle cx="810.0" cy="975.0" r="8.3"/><circle cx="909.4" cy="980.2" r="8.3"/><circle cx="961.3" cy="988.8" r="8.3"/><circle cx="915.8" cy="1002.5" r="8.3"/><circle cx="883.9" cy="1021.5" r="8.3"/><circle cx="810.0" cy="1028.3" r="8.3"/><circle cx="897.7" cy="1036.9" r="8.3"/><circle cx="948.4" cy="1031.8" r="8.3"/><circle cx="896.8" cy="1067.9" r="8.3"/><circle cx="941.5" cy="1068.7" r="8.3"/><circle cx="961.3" cy="1075.6" r="8.3"/><circle cx="985.4" cy="1099.7" r="8.3"/><circle cx="930.4" cy="1100.6" r="8.3"/><circle cx="820.3" cy="1100.6" r="8.3"/><circle cx="838.4" cy="1102.3" r="8.3"/><circle cx="896.0" cy="1110.9" r="8.3"/><circle cx="942.4" cy="1112.6" r="8.3"/><circle cx="939.0" cy="1122.9" r="8.3"/><circle cx="968.2" cy="1126.3" r="8.3"/><circle cx="861.6" cy="1121.2" r="8.3"/><circle cx="1002.6" cy="1134.9" r="8.3"/><circle cx="816.9" cy="1134.9" r="8.3"/><circle cx="832.4" cy="1136.7" r="8.3"/><circle cx="951.0" cy="1133.2" r="8.3"/><circle cx="588.4" cy="1138.6" r="8.3"/><circle cx="615.0" cy="1136.9" r="8.3"/><circle cx="623.6" cy="1154.1" r="8.3"/><circle cx="658.0" cy="1135.2" r="8.3"/><circle cx="673.5" cy="1157.5" r="8.3"/><circle cx="709.6" cy="1138.6" r="8.3"/><circle cx="687.2" cy="1159.2" r="8.3"/><circle cx="768.9" cy="1157.5" r="8.3"/><circle cx="788.7" cy="1143.8" r="8.3"/><circle cx="809.3" cy="1140.3" r="8.3"/><circle cx="735.4" cy="1173.8" r="8.3"/><circle cx="652.9" cy="1188.5" r="8.3"/><circle cx="707.0" cy="1185.9" r="8.3"/><circle cx="701.9" cy="1200.5" r="8.3"/><circle cx="808.5" cy="1179.0" r="8.3"/><circle cx="646.0" cy="1223.7" r="8.3"/><circle cx="713.9" cy="1222.9" r="8.3"/><circle cx="687.2" cy="1236.6" r="8.3"/><circle cx="775.8" cy="1231.5" r="8.3"/><circle cx="811.1" cy="1222.9" r="8.3"/><circle cx="749.2" cy="1252.1" r="8.3"/><circle cx="683.8" cy="1259.0" r="8.3"/><circle cx="726.8" cy="1272.7" r="8.3"/><circle cx="805.9" cy="1271.0" r="8.3"/><circle cx="772.4" cy="1289.9" r="8.3"/><circle cx="787.8" cy="1298.5" r="8.3"/><circle cx="813.6" cy="1336.3" r="8.3"/><circle cx="816.9" cy="1138.6" r="8.3"/><circle cx="835.8" cy="1138.6" r="8.3"/><circle cx="1000.9" cy="1136.9" r="8.3"/><circle cx="906.3" cy="1145.5" r="8.3"/><circle cx="1000.9" cy="1148.9" r="8.3"/><circle cx="891.7" cy="1161.8" r="8.3"/><circle cx="928.7" cy="1172.1" r="8.3"/><circle cx="856.4" cy="1176.4" r="8.3"/><circle cx="968.2" cy="1176.4" r="8.3"/><circle cx="1045.6" cy="1173.0" r="8.3"/><circle cx="856.4" cy="1186.7" r="8.3"/><circle cx="997.4" cy="1176.4" r="8.3"/><circle cx="1007.8" cy="1193.6" r="8.3"/><circle cx="1004.3" cy="1207.4" r="8.3"/><circle cx="955.3" cy="1215.1" r="8.3"/><circle cx="813.4" cy="1219.4" r="8.3"/><circle cx="851.3" cy="1228.0" r="8.3"/><circle cx="882.2" cy="1231.5" r="8.3"/><circle cx="990.6" cy="1241.8" r="8.3"/><circle cx="914.0" cy="1251.2" r="8.3"/><circle cx="946.7" cy="1255.5" r="8.3"/><circle cx="961.3" cy="1275.3" r="8.3"/><circle cx="849.6" cy="1272.7" r="8.3"/><circle cx="884.8" cy="1283.0" r="8.3"/><circle cx="975.9" cy="1290.8" r="8.3"/><circle cx="834.1" cy="1290.8" r="8.3"/><circle cx="924.4" cy="1298.5" r="8.3"/><circle cx="813.4" cy="1336.3" r="8.3"/><circle cx="810.0" cy="1271.0" r="8.3"/></g>
<path d="M741.5 936.0C741.4 939.1 740.8 947.6 740.6 954.4C740.5 961.2 740.5 969.5 740.6 976.7C740.7 983.9 740.4 990.8 741.4 997.4C742.4 1004.0 745.3 1009.7 746.6 1016.3C747.9 1022.9 747.1 1030.6 749.2 1036.9C751.4 1043.2 756.6 1048.4 759.5 1054.1C762.4 1059.8 764.4 1065.6 766.4 1071.3C768.4 1077.0 767.8 1083.3 771.5 1088.5C775.2 1093.7 782.4 1098.0 788.7 1102.3C795.0 1106.6 803.2 1111.2 809.4 1114.3C815.6 1117.4 823.2 1119.9 826.0 1121.0" stroke="#00175f" stroke-width="22" fill="none" stroke-linejoin="round"/>
<path d="M745.7 969.9C742.0 971.0 729.7 973.8 723.4 976.7C717.1 979.6 713.3 982.8 707.9 987.1C702.5 991.4 696.2 997.6 690.7 1002.5C685.2 1007.4 679.5 1011.7 675.2 1016.3C670.9 1020.9 668.0 1025.5 664.9 1030.1C661.8 1034.7 660.3 1039.2 656.3 1043.8C652.3 1048.4 644.7 1053.0 640.8 1057.6C636.9 1062.2 634.3 1065.6 633.0 1071.3C631.7 1077.0 633.0 1082.2 633.1 1092.0C633.2 1101.8 633.4 1119.2 633.5 1130.0C633.6 1140.8 633.9 1152.5 634.0 1157.0" stroke="#00175f" stroke-width="23" fill="none" stroke-linejoin="round"/>
<path d="M577.0 1106.5C581.3 1108.4 594.2 1114.4 603.0 1117.8C611.8 1121.2 625.5 1125.5 630.0 1127.0" stroke="#00175f" stroke-width="22" fill="none" stroke-linejoin="round"/>
<path d="M759.5 1033.5C763.5 1030.6 776.1 1021.4 783.6 1016.3C791.1 1011.2 798.1 1006.2 804.2 1003.0C810.3 999.8 814.0 998.1 820.0 997.0C826.0 995.9 833.9 996.5 840.0 996.5C846.1 996.5 849.9 997.9 856.4 997.0C862.9 996.1 872.2 991.6 878.8 991.4C885.4 991.2 890.3 994.3 896.0 995.7C901.7 997.1 907.2 999.1 913.2 1000.0C919.2 1000.9 928.9 1000.8 932.0 1001.0" stroke="#00175f" stroke-width="22" fill="none" stroke-linejoin="round"/>
<path d="M958.0 954.0C956.3 955.8 950.5 960.3 947.6 964.7C944.7 969.1 942.4 974.8 940.7 980.2C939.0 985.7 939.3 991.4 937.3 997.4C935.3 1003.4 931.0 1010.6 928.7 1016.3C926.4 1022.0 924.6 1026.6 923.5 1031.8C922.4 1037.0 922.7 1042.1 921.8 1047.3C920.9 1052.5 919.2 1057.3 918.3 1062.7C917.4 1068.1 917.2 1074.2 916.6 1079.9C916.0 1085.6 915.5 1091.4 914.9 1097.1C914.3 1102.8 912.7 1108.8 913.2 1114.3C913.7 1119.8 917.2 1127.4 918.0 1130.0" stroke="#00175f" stroke-width="23" fill="none" stroke-linejoin="round"/>
<path d="M940.0 993.0C942.2 995.0 949.3 1001.5 953.0 1005.0C956.7 1008.5 960.5 1012.5 962.0 1014.0" stroke="#00175f" stroke-width="21" fill="none" stroke-linejoin="round"/>
<path d="M925.0 1072.0C928.2 1074.2 938.6 1080.6 944.1 1085.1C949.6 1089.6 953.3 1094.2 957.9 1098.8C962.5 1103.4 967.7 1108.0 971.7 1112.6C975.7 1117.2 979.4 1121.8 982.0 1126.4C984.6 1131.0 986.6 1135.7 987.1 1140.0C987.6 1144.3 985.4 1150.0 985.0 1152.0" stroke="#00175f" stroke-width="22" fill="none" stroke-linejoin="round"/>
<path d="M672.0 1190.0C674.0 1188.0 679.8 1182.0 684.0 1178.0C688.2 1174.0 691.8 1169.3 697.0 1166.0C702.2 1162.7 708.7 1161.0 715.0 1158.0C721.3 1155.0 729.2 1151.2 735.0 1148.0C740.8 1144.8 743.3 1141.8 750.0 1139.0C756.7 1136.2 766.7 1133.2 775.0 1131.0C783.3 1128.8 791.5 1127.7 800.0 1126.0C808.5 1124.3 821.7 1121.8 826.0 1121.0" stroke="#00175f" stroke-width="24" fill="none" stroke-linejoin="round"/>
<path d="M650.0 1143.0C651.1 1145.5 654.3 1153.2 656.5 1158.0C658.7 1162.8 660.1 1167.7 663.0 1172.0C665.9 1176.3 670.2 1180.0 674.0 1184.0C677.8 1188.0 682.6 1191.8 686.0 1196.0C689.4 1200.2 692.0 1204.0 694.1 1209.0C696.2 1214.0 696.8 1220.8 698.5 1226.3C700.2 1231.8 702.9 1236.3 704.5 1241.8C706.1 1247.2 707.3 1253.3 707.9 1259.0C708.5 1264.7 708.1 1271.0 708.0 1276.2C707.9 1281.4 707.2 1287.7 707.0 1290.0" stroke="#00175f" stroke-width="22" fill="none" stroke-linejoin="round"/>
<path d="M680.4 1186.7C678.7 1190.2 673.0 1200.2 670.1 1207.4C667.2 1214.6 665.1 1223.1 663.2 1229.7C661.4 1236.3 659.7 1244.1 659.0 1247.0" stroke="#00175f" stroke-width="22" fill="none" stroke-linejoin="round"/>
<path d="M812.0 1128.0C813.4 1131.2 816.9 1141.1 820.3 1147.2C823.7 1153.3 829.5 1158.1 832.4 1164.4C835.3 1170.7 837.2 1177.8 837.5 1185.0C837.8 1192.2 835.2 1200.5 834.1 1207.4C833.0 1214.3 831.5 1219.7 830.6 1226.3C829.7 1232.9 829.8 1240.0 828.9 1246.9C828.0 1253.8 827.5 1261.3 825.5 1267.6C823.5 1273.9 819.8 1278.6 816.9 1284.8C814.0 1291.0 811.3 1298.8 808.0 1305.0C804.7 1311.2 800.5 1316.8 797.0 1322.0C793.5 1327.2 788.7 1333.7 787.0 1336.0" stroke="#00175f" stroke-width="23" fill="none" stroke-linejoin="round"/>
<path d="M824.0 1150.0C827.4 1149.8 836.7 1150.6 844.4 1149.0C852.1 1147.4 861.6 1142.9 870.2 1140.3C878.8 1137.7 887.4 1134.6 896.0 1133.4C904.6 1132.2 913.2 1131.6 921.8 1133.0C930.4 1134.4 939.0 1140.0 947.6 1142.0C956.2 1144.0 967.2 1143.7 973.4 1145.0C979.6 1146.3 980.7 1146.8 985.0 1150.0C989.3 1153.2 994.0 1161.1 999.2 1164.4C1004.4 1167.7 1010.7 1166.7 1016.4 1169.6C1022.1 1172.5 1028.7 1177.2 1033.6 1181.6C1038.5 1186.0 1043.9 1193.6 1046.0 1196.0" stroke="#00175f" stroke-width="23" fill="none" stroke-linejoin="round"/>
<path d="M982.0 1155.8C981.7 1160.1 981.4 1174.4 980.2 1181.6C979.1 1188.8 975.3 1193.1 975.1 1198.8C974.9 1204.5 978.7 1210.3 979.0 1216.0C979.3 1221.7 978.5 1227.5 977.0 1233.2C975.5 1238.9 971.9 1244.7 969.9 1250.4C967.9 1256.1 966.2 1261.9 964.8 1267.6C963.4 1273.3 962.3 1279.4 961.3 1284.8C960.2 1290.2 959.0 1297.5 958.5 1300.0" stroke="#00175f" stroke-width="23" fill="none" stroke-linejoin="round"/>
<path d="M827.2 1246.9C831.5 1247.5 844.4 1249.6 853.0 1250.4C861.6 1251.2 871.6 1250.3 878.8 1252.0C886.0 1253.7 890.3 1257.5 896.0 1260.7C901.7 1263.9 907.5 1268.4 913.2 1271.0C918.9 1273.6 924.7 1273.7 930.4 1276.2C936.1 1278.7 943.0 1282.5 947.6 1286.0C952.2 1289.5 956.3 1295.2 958.0 1297.0" stroke="#00175f" stroke-width="23" fill="none" stroke-linejoin="round"/>
<path d="M749.0 1277.0C751.9 1274.8 760.6 1268.0 766.4 1264.1C772.2 1260.2 777.9 1256.7 783.6 1253.8C789.3 1250.9 793.6 1248.0 800.8 1246.5C808.0 1245.0 822.6 1245.2 827.0 1245.0" stroke="#00175f" stroke-width="22" fill="none" stroke-linejoin="round"/>
<path d="M936.0 1140.0C937.3 1143.0 941.3 1151.8 944.0 1158.0C946.7 1164.2 950.7 1173.8 952.0 1177.0" stroke="#00175f" stroke-width="21" fill="none" stroke-linejoin="round"/>
<path d="M568.7 933.2H597M609.9 933.2H646.8M658.9 933.2H695.9M708.8 933.2H745.7M757.8 933.2H794.7M807.5 933.2H845.3M857.3 933.2H894.3M907.2 933.2H944.1M956.2 933.2H993.1M1006 933.2H1043M1057 930.3V967.8M1057 981V1017.7M1057 1030V1066.5M1057 1080V1116.5M1057 1129.5V1167M1057 1179V1216M1057 1228.9V1265.9M1057 1277.9V1314.9M1057 1327.8V1350.2M575.5 1347.4H611.6M624 1347.4H660.6M674 1347.4H711M723.4 1347.4H759.8M773.2 1347.4H809.9M822 1347.4H859M871.9 1347.4H908.9M920.9 1347.4H957.9M970.8 1347.4H1007.8M1020.7 1347.4H1059.9M571.5 930.3V942.4M571.5 956.6V994M571.5 1006V1043M571.5 1055.9V1092.8M571.5 1104.9V1142M571.5 1155V1192M571.5 1204V1241M571.5 1253.8V1290.8M571.5 1303.7V1340.7" fill="none" stroke="#000" stroke-width="5.7"/>
<ellipse cx="848.3" cy="1057.4" rx="57" ry="60.5" fill="none" stroke="#ff0000" stroke-width="5"/>
<path d="M853 1028 L839 1083" stroke="#ff0000" stroke-width="3.2"/>
<polygon points="859.9,1001.7 839.2,1024 866.7,1031.8" fill="#ff0000"/>
<polygon points="832.4,1108.3 826.3,1079.1 853.9,1086" fill="#ff0000"/>
<path d="M858.2 1050.6 H1072" stroke="#000" stroke-width="2.8"/>
<polygon points="1097.5,1050.5 1069.5,1035.5 1069.5,1065.3" fill="#000"/>
<text transform="translate(752.3 843.9) scale(0.985 1)" font-size="34.5" fill="#ff0000" class="b"><tspan font-size="44" dy="2.5">~</tspan><tspan dy="-2.5">38 nm</tspan></text>
<text transform="translate(569.5 891.7) scale(0.99 1)" font-size="34.5" fill="#ff0000" class="b"><tspan font-size="44" dy="2.5">~</tspan><tspan dy="-2.5">1 nm</tspan></text>
<text transform="translate(1110.3 1059.4) scale(1.012 1)" font-size="34.5" fill="#ff0000" class="b"><tspan font-size="44" dy="2.5">~</tspan><tspan dy="-2.5">11.4 nm</tspan></text>
</g>
<g id="axes-a">
<rect x="406.0" y="64.1" width="1657.7" height="1372.7" fill="none" stroke="#000" stroke-width="6.3"/>
<path d="M379.2 1436.8H406M379.2 1093.6H406M379.2 750.5H406M379.2 407.3H406M379.2 64.1H406M392.2 1333.5H406M392.2 1273.1H406M392.2 1230.2H406M392.2 1196.9H406M392.2 1169.8H406M392.2 1146.8H406M392.2 1126.9H406M392.2 1109.3H406M392.2 990.3H406M392.2 929.9H406M392.2 887H406M392.2 853.8H406M392.2 826.6H406M392.2 803.6H406M392.2 783.7H406M392.2 766.2H406M392.2 647.1H406M392.2 586.7H406M392.2 543.8H406M392.2 510.6H406M392.2 483.4H406M392.2 460.4H406M392.2 440.5H406M392.2 423H406M392.2 304H406M392.2 243.5H406M392.2 200.7H406M392.2 167.4H406M392.2 140.2H406M392.2 117.3H406M392.2 97.4H406M392.2 79.8H406" stroke="#000" stroke-width="5.9" stroke-linecap="round" fill="none"/>
<path d="M627.3 1436.8V1463.6M1362.3 1436.8V1463.6M406 1436.8V1450.6M464.2 1436.8V1450.6M513.4 1436.8V1450.6M556 1436.8V1450.6M593.6 1436.8V1450.6M848.5 1436.8V1450.6M978 1436.8V1450.6M1069.8 1436.8V1450.6M1141 1436.8V1450.6M1199.2 1436.8V1450.6M1248.4 1436.8V1450.6M1291.1 1436.8V1450.6M1328.7 1436.8V1450.6M1583.6 1436.8V1450.6M1713 1436.8V1450.6M1804.8 1436.8V1450.6M1876.1 1436.8V1450.6M1934.3 1436.8V1450.6M1983.5 1436.8V1450.6M2026.1 1436.8V1450.6M2063.7 1436.8V1450.6" stroke="#000" stroke-width="5.9" stroke-linecap="round" fill="none"/>
</g>
<text transform="translate(363.5 96.6) scale(0.97 1)" font-size="86.5" text-anchor="end">10<tspan font-size="53.5" dy="-41" dx="-2.1">2</tspan></text>
<text transform="translate(363.5 439.8) scale(0.97 1)" font-size="86.5" text-anchor="end">10<tspan font-size="53.5" dy="-41" dx="-2.1">1</tspan></text>
<text transform="translate(363.5 783) scale(0.97 1)" font-size="86.5" text-anchor="end">10<tspan font-size="53.5" dy="-41" dx="-2.1">0</tspan></text>
<text transform="translate(365.5 1126.1) scale(0.97 1)" font-size="86.5" text-anchor="end">10<tspan font-size="53.5" dy="-41" dx="0.0">-1</tspan></text>
<text transform="translate(365.5 1469.3) scale(0.97 1)" font-size="86.5" text-anchor="end">10<tspan font-size="53.5" dy="-41" dx="0.0">-2</tspan></text>
<text transform="translate(627.3 1548.3) scale(0.97 1)" font-size="86.5" text-anchor="middle">0.1</text>
<text transform="translate(1362.3 1548.3) scale(0.97 1)" font-size="86.5" text-anchor="middle">1</text>
<text x="55.5" y="135" font-size="116">(a)</text>
<text transform="translate(143.1 884.5) rotate(-90)" font-size="118.5">I(q)</text>
<text y="1652.5" font-size="115"><tspan x="1085.5">q</tspan><tspan x="1180.5" font-size="85" dy="-4">(</tspan><tspan x="1209.5" dy="4">nm</tspan><tspan x="1366" font-size="71" dy="-36">-1</tspan><tspan x="1430.5" font-size="85" dy="32">)</tspan></text>
<g id="axes-b">
<rect x="356.2" y="1808.4" width="1705.8" height="1326.8" fill="none" stroke="#000" stroke-width="6.3"/>
<path d="M329.4 2925.3H356.2M329.4 2228.1H356.2M342.4 3135.2H356.2M342.4 3080H356.2M342.4 3033.3H356.2M342.4 2992.9H356.2M342.4 2957.2H356.2M342.4 2715.5H356.2M342.4 2592.7H356.2M342.4 2505.6H356.2M342.4 2438H356.2M342.4 2382.8H356.2M342.4 2336.1H356.2M342.4 2295.7H356.2M342.4 2260H356.2M342.4 2018.3H356.2M342.4 1895.5H356.2M342.4 1808.4H356.2" stroke="#000" stroke-width="5.9" stroke-linecap="round" fill="none"/>
<path d="M775.9 3135.2V3162M1578.7 3135.2V3162M356.2 3135.2V3149M456.5 3135.2V3149M534.3 3135.2V3149M597.9 3135.2V3149M651.6 3135.2V3149M698.1 3135.2V3149M739.2 3135.2V3149M1017.6 3135.2V3149M1159 3135.2V3149M1259.2 3135.2V3149M1337 3135.2V3149M1400.6 3135.2V3149M1454.3 3135.2V3149M1500.9 3135.2V3149M1542 3135.2V3149M1820.3 3135.2V3149M1961.7 3135.2V3149M2062 3135.2V3149" stroke="#000" stroke-width="5.9" stroke-linecap="round" fill="none"/>
</g>
<text transform="translate(311 2260.6) scale(0.97 1)" font-size="86.5" text-anchor="end">10<tspan font-size="53.5" dy="-41" dx="-2.1">1</tspan></text>
<text transform="translate(311 2957.8) scale(0.97 1)" font-size="86.5" text-anchor="end">10<tspan font-size="53.5" dy="-41" dx="-2.1">0</tspan></text>
<text transform="translate(775.9 3246.8) scale(0.97 1)" font-size="86.5" text-anchor="middle">10</text>
<text transform="translate(1578.7 3246.8) scale(0.97 1)" font-size="86.5" text-anchor="middle">100</text>
<text x="47" y="1891" font-size="116">(b)</text>
<text transform="translate(146.9,2879) rotate(-90)" font-size="116">d and D (nm)</text>
<text x="994.5" y="3375" font-size="115">c (mg/ml)</text>
<g id="series-b">
<polygon points="775.9,1924.8 742.8,1981.8 809,1981.8" fill="#0000ff"/>
<polygon points="1017.6,1979.2 984.5,2036.2 1050.7,2036.2" fill="#0000ff"/>
<polygon points="1159,2071.3 1125.9,2128.3 1192.1,2128.3" fill="#0000ff"/>
<polygon points="1337,2136.2 1303.9,2193.2 1370.1,2193.2" fill="#0000ff"/>
<polygon points="1578.7,2254.4 1545.6,2311.4 1611.8,2311.4" fill="#0000ff"/>
<polygon points="1820.3,2338.6 1787.2,2395.6 1853.4,2395.6" fill="#0000ff"/>
<circle cx="534.3" cy="2892.5" r="28.1" fill="#008080"/>
<circle cx="775.9" cy="2907.5" r="28.1" fill="#008080"/>
<circle cx="1017.6" cy="2936.3" r="28.1" fill="#008080"/>
<circle cx="1159" cy="2954.4" r="28.1" fill="#008080"/>
<circle cx="1337" cy="2934" r="28.1" fill="#008080"/>
<circle cx="1578.7" cy="2948" r="28.1" fill="#008080"/>
<circle cx="1820.3" cy="2888.5" r="28.1" fill="#008080"/>
<line x1="775.8" y1="1942.5" x2="1818.5" y2="2374.5" stroke="#ff0000" stroke-width="10.3" stroke-linecap="round" />
<line x1="535.3" y1="2915.3" x2="1895" y2="2915.3" stroke="#ff0000" stroke-width="10.4" stroke-linecap="round" />
<text x="708.5" y="2438.5" font-size="77">d</text>
<text x="881" y="2438.5" font-size="77">D</text>
<polygon points="752.6,2468.6 719.5,2525.6 785.7,2525.6" fill="#0000ff"/>
<circle cx="923.1" cy="2506.9" r="28.1" fill="#008080"/>
<polygon points="1427.8,2088.8 1427.8,2157.4 1591,2157.4 1591,2155" fill="#ff0000"/>
<text transform="translate(1468.8 2100.5) scale(0.935 1)" font-size="74.5">&#8211;0.5</text>
</g>
</svg></body></html>
